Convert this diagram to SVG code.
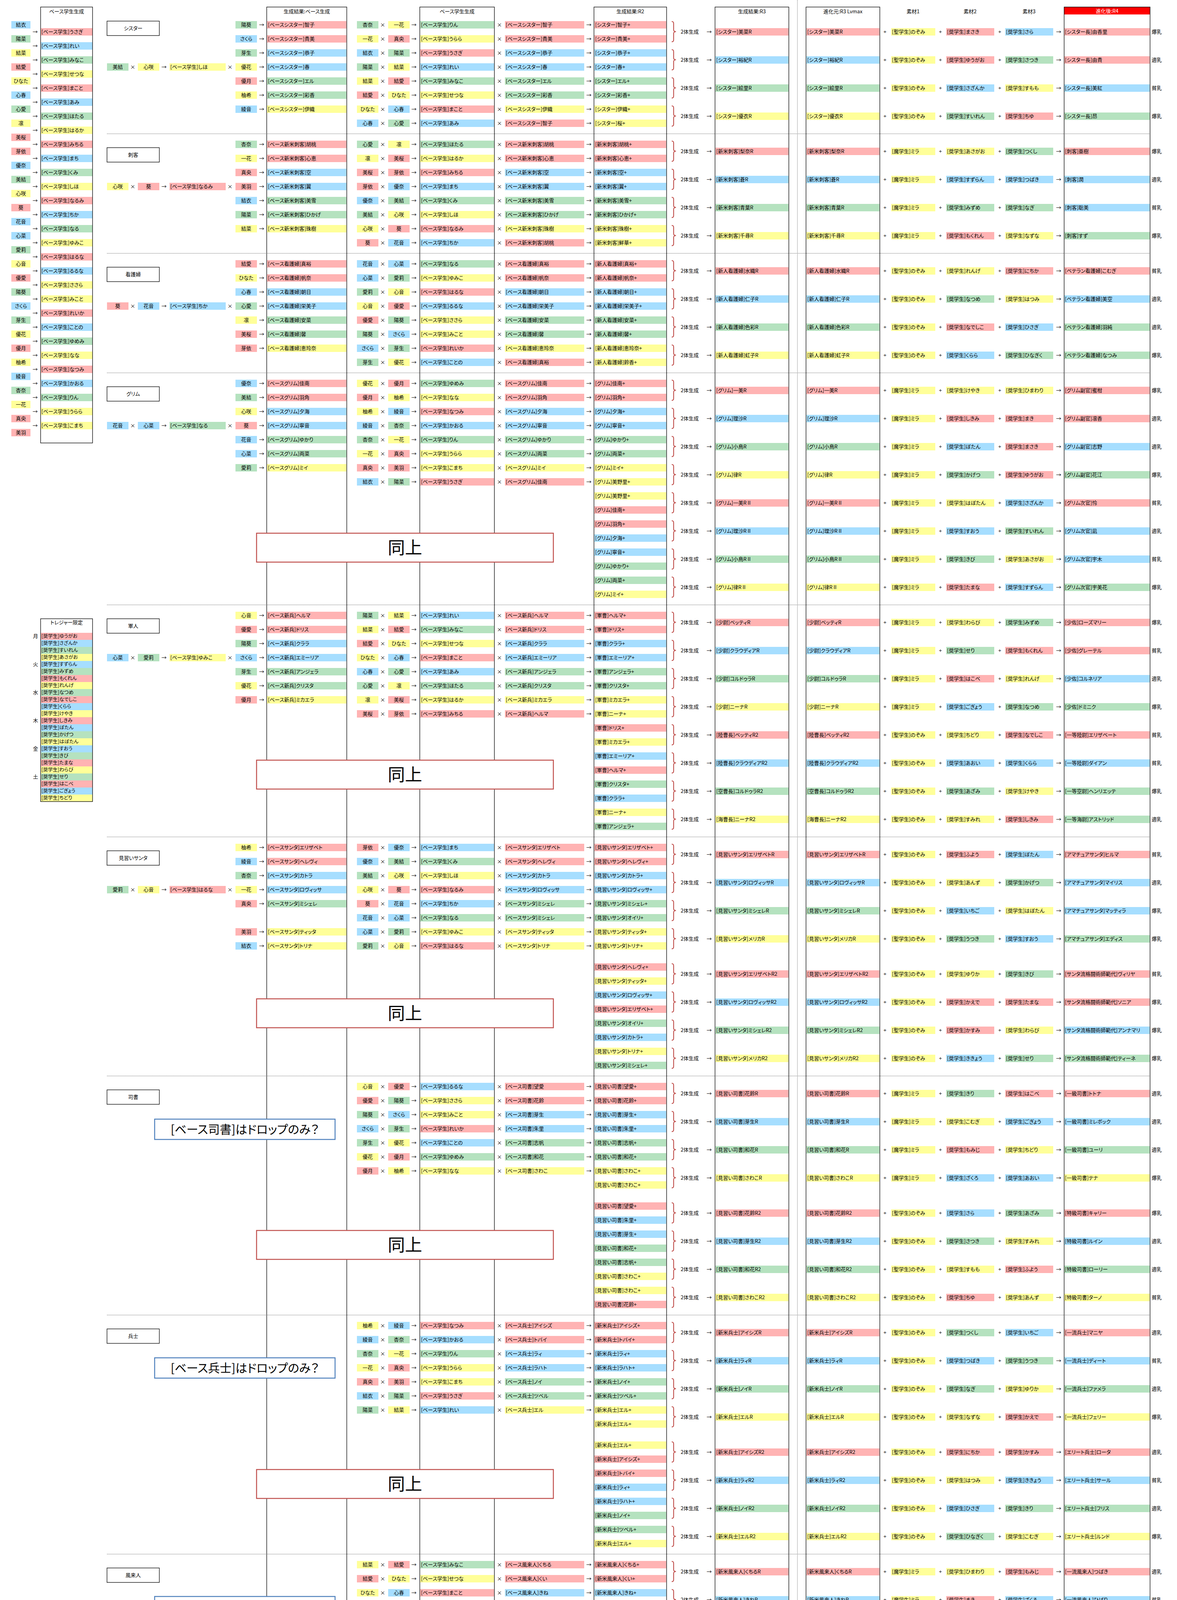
<svg xmlns="http://www.w3.org/2000/svg" width="3014" height="5815" viewBox="0 0 3014 5815">
<style>
text{font-family:"Noto Sans CJK JP","Noto Sans CJK SC",sans-serif;font-size:13px;font-feature-settings:"palt";fill:#000}
.p{fill:#FFB3B3}.b{fill:#A6DEFF}.g{fill:#B5E2BF}.y{fill:#FFFF99}
.m{text-anchor:middle}.w{fill:#fff}
.bx{fill:none;stroke:#000;stroke-width:1.3}
.lb{fill:#fff;stroke:#000;stroke-width:1.3}
.ld{fill:#fff;stroke:#000;stroke-width:1;stroke-dasharray:2 2}
.dt{stroke:#444;stroke-width:1;stroke-dasharray:1.5 1.5}
.sl{stroke:#444;stroke-width:1}
.sd{fill:#fff;stroke:#C0504D;stroke-width:2.5}
.nb{fill:#fff;stroke:#4F81BD;stroke-width:2.5}
.big{font-size:44px}.mid{font-size:30px}
.wa rect{width:49px;height:19px}.wb rect{width:132px;height:19px}.wt rect{width:132px;height:18px}
.wc rect{width:55px;height:19px}.wd rect{width:144px;height:19px}.we rect{width:203px;height:19px}
.wf rect{width:189px;height:19px}.wg rect{width:184px;height:19px}.wh rect{width:187px;height:19px}
.wi rect{width:113px;height:19px}.wj rect{width:123px;height:19px}.wk rect{width:219px;height:19px}
.wa text,.wc text{text-anchor:middle}.wt text{font-size:12.5px}
</style>
<defs>
<path id="br" d="M0,0q5,0 5,5v16q0,5 6,5q-6,0-6,5v16q0,5-5,5" fill="none" stroke="#C0504D" stroke-width="2.2"/>
</defs>
<rect width="3014" height="5815" fill="#fff"/>

<g id="base-list">
<g class="wa" transform="translate(29,0)">
<rect class="b" y="54"/><text x="24.5" y="68">結衣</text><rect class="g" y="90"/><text x="24.5" y="104">陽菜</text><rect class="y" y="126"/><text x="24.5" y="140">結菜</text><rect class="p" y="162"/><text x="24.5" y="176">結愛</text><rect class="y" y="198"/><text x="24.5" y="212">ひなた</text><rect class="b" y="234"/><text x="24.5" y="248">心春</text><rect class="g" y="270"/><text x="24.5" y="284">心愛</text><rect class="y" y="306"/><text x="24.5" y="320">凛</text><rect class="p" y="342"/><text x="24.5" y="356">美桜</text><rect class="p" y="378"/><text x="24.5" y="392">芽依</text><rect class="b" y="414"/><text x="24.5" y="428">優奈</text><rect class="g" y="450"/><text x="24.5" y="464">美結</text><rect class="y" y="486"/><text x="24.5" y="500">心咲</text><rect class="p" y="522"/><text x="24.5" y="536">葵</text><rect class="b" y="558"/><text x="24.5" y="572">花音</text><rect class="b" y="594"/><text x="24.5" y="608">心菜</text><rect class="g" y="630"/><text x="24.5" y="644">愛莉</text><rect class="y" y="666"/><text x="24.5" y="680">心音</text><rect class="p" y="702"/><text x="24.5" y="716">優愛</text><rect class="g" y="738"/><text x="24.5" y="752">陽葵</text><rect class="b" y="774"/><text x="24.5" y="788">さくら</text><rect class="g" y="810"/><text x="24.5" y="824">芽生</text><rect class="y" y="846"/><text x="24.5" y="860">優花</text><rect class="p" y="882"/><text x="24.5" y="896">優月</text><rect class="y" y="918"/><text x="24.5" y="932">柚希</text><rect class="b" y="954"/><text x="24.5" y="968">綾音</text><rect class="g" y="990"/><text x="24.5" y="1004">杏奈</text><rect class="y" y="1026"/><text x="24.5" y="1040">一花</text><rect class="p" y="1062"/><text x="24.5" y="1076">真央</text><rect class="p" y="1098"/><text x="24.5" y="1112">美羽</text>
</g>
<g class="wb" transform="translate(105,0)">
<rect class="p" y="72"/><text x="1" y="86">[ベース学生]うさぎ</text><rect class="b" y="108"/><text x="1" y="122">[ベース学生]れい</text><rect class="g" y="144"/><text x="1" y="158">[ベース学生]みなこ</text><rect class="y" y="180"/><text x="1" y="194">[ベース学生]せつな</text><rect class="p" y="216"/><text x="1" y="230">[ベース学生]まこと</text><rect class="b" y="252"/><text x="1" y="266">[ベース学生]あみ</text><rect class="g" y="288"/><text x="1" y="302">[ベース学生]ほたる</text><rect class="y" y="324"/><text x="1" y="338">[ベース学生]はるか</text><rect class="p" y="360"/><text x="1" y="374">[ベース学生]みちる</text><rect class="b" y="396"/><text x="1" y="410">[ベース学生]まち</text><rect class="g" y="432"/><text x="1" y="446">[ベース学生]くみ</text><rect class="y" y="468"/><text x="1" y="482">[ベース学生]しほ</text><rect class="p" y="504"/><text x="1" y="518">[ベース学生]なるみ</text><rect class="b" y="540"/><text x="1" y="554">[ベース学生]ちか</text><rect class="g" y="576"/><text x="1" y="590">[ベース学生]なる</text><rect class="y" y="612"/><text x="1" y="626">[ベース学生]ゆみこ</text><rect class="p" y="648"/><text x="1" y="662">[ベース学生]はるな</text><rect class="b" y="684"/><text x="1" y="698">[ベース学生]るるな</text><rect class="y" y="720"/><text x="1" y="734">[ベース学生]ささら</text><rect class="y" y="756"/><text x="1" y="770">[ベース学生]みこと</text><rect class="p" y="792"/><text x="1" y="806">[ベース学生]れいか</text><rect class="b" y="828"/><text x="1" y="842">[ベース学生]ことの</text><rect class="g" y="864"/><text x="1" y="878">[ベース学生]ゆめみ</text><rect class="y" y="900"/><text x="1" y="914">[ベース学生]なな</text><rect class="p" y="936"/><text x="1" y="950">[ベース学生]なつみ</text><rect class="b" y="972"/><text x="1" y="986">[ベース学生]かおる</text><rect class="g" y="1008"/><text x="1" y="1022">[ベース学生]りん</text><rect class="y" y="1044"/><text x="1" y="1058">[ベース学生]うらら</text><rect class="y" y="1080"/><text x="1" y="1094">[ベース学生]こまち</text>
</g>
<text class="m" x="90 90 90 90 90 90 90 90 90 90 90 90 90 90 90 90 90 90 90 90 90 90 90 90 90 90 90 90 90" y="86 122 158 194 230 266 302 338 374 410 446 482 518 554 590 626 662 698 734 770 806 842 878 914 950 986 1022 1058 1094">→→→→→→→→→→→→→→→→→→→→→→→→→→→→→</text>
<rect class="bx" x="104" y="18" width="133" height="1116"/>
<text class="m" x="170.5" y="34">ベース学生生成</text>
</g>

<g id="treasure">
<g class="wt" transform="translate(105,0)">
<rect class="p" y="1620"/><text x="1" y="1633">[奨学生]ゆうがお</text><rect class="b" y="1638"/><text x="1" y="1651">[奨学生]さざんか</text><rect class="g" y="1656"/><text x="1" y="1669">[奨学生]すいれん</text><rect class="y" y="1674"/><text x="1" y="1687">[奨学生]あさがお</text><rect class="b" y="1692"/><text x="1" y="1705">[奨学生]すずらん</text><rect class="g" y="1710"/><text x="1" y="1723">[奨学生]みずめ</text><rect class="p" y="1728"/><text x="1" y="1741">[奨学生]もくれん</text><rect class="y" y="1746"/><text x="1" y="1759">[奨学生]れんげ</text><rect class="g" y="1764"/><text x="1" y="1777">[奨学生]なつめ</text><rect class="p" y="1782"/><text x="1" y="1795">[奨学生]なでしこ</text><rect class="b" y="1800"/><text x="1" y="1813">[奨学生]くらら</text><rect class="y" y="1818"/><text x="1" y="1831">[奨学生]けやき</text><rect class="p" y="1836"/><text x="1" y="1849">[奨学生]しきみ</text><rect class="b" y="1854"/><text x="1" y="1867">[奨学生]ぼたん</text><rect class="g" y="1872"/><text x="1" y="1885">[奨学生]かげつ</text><rect class="y" y="1890"/><text x="1" y="1903">[奨学生]はぼたん</text><rect class="b" y="1908"/><text x="1" y="1921">[奨学生]すおう</text><rect class="g" y="1926"/><text x="1" y="1939">[奨学生]きび</text><rect class="p" y="1944"/><text x="1" y="1957">[奨学生]たまな</text><rect class="y" y="1962"/><text x="1" y="1975">[奨学生]わらび</text><rect class="g" y="1980"/><text x="1" y="1993">[奨学生]せり</text><rect class="p" y="1998"/><text x="1" y="2011">[奨学生]はこべ</text><rect class="b" y="2016"/><text x="1" y="2029">[奨学生]ごぎょう</text><rect class="y" y="2034"/><text x="1" y="2047">[奨学生]ちどり</text>
</g>
<text class="m" x="91 91 91 91 91 91" y="1633 1705 1777 1849 1921 1993">月火水木金土</text>
<rect class="bx" x="104" y="1584" width="133" height="468"/>
<text class="m" x="170.5" y="1598">トレジャー限定</text>
</g>

<g id="sec-sister">
<rect class="lb" x="274" y="54" width="134" height="37"/><text class="m" x="341" y="77">シスター</text>
<g class="wc"><rect class="g" x="274" y="162"/><text x="301.5" y="176">美結</text><rect class="y" x="353" y="162"/><text x="380.5" y="176">心咲</text></g>
<g class="wd"><rect class="y" x="434" y="162"/><text x="436" y="176">[ベース学生]しほ</text></g>
<text class="m" x="340" y="176">×</text><text class="m" x="420" y="176">→</text><text class="m" x="589" y="176">×</text>
<text class="m" x="670 670 670 670 670 670 670" y="68 104 140 176 212 248 284">→→→→→→→</text>
<g class="wc" transform="translate(603,0)"><rect class="g" y="54"/><text x="27.5" y="68">陽葵</text><rect class="b" y="90"/><text x="27.5" y="104">さくら</text><rect class="g" y="126"/><text x="27.5" y="140">芽生</text><rect class="y" y="162"/><text x="27.5" y="176">優花</text><rect class="p" y="198"/><text x="27.5" y="212">優月</text><rect class="y" y="234"/><text x="27.5" y="248">柚希</text><rect class="b" y="270"/><text x="27.5" y="284">綾音</text></g>
<g class="we" transform="translate(684,0)"><rect class="p" y="54"/><text x="2" y="68">[ベースシスター]智子</text><rect class="p" y="90"/><text x="2" y="104">[ベースシスター]貴美</text><rect class="b" y="126"/><text x="2" y="140">[ベースシスター]恭子</text><rect class="b" y="162"/><text x="2" y="176">[ベースシスター]春</text><rect class="g" y="198"/><text x="2" y="212">[ベースシスター]エル</text><rect class="g" y="234"/><text x="2" y="248">[ベースシスター]彩香</text><rect class="y" y="270"/><text x="2" y="284">[ベースシスター]伊織</text></g>
<g class="wc" transform="translate(914,0)"><rect class="g" y="54"/><text x="27.5" y="68">杏奈</text><rect class="y" y="90"/><text x="27.5" y="104">一花</text><rect class="b" y="126"/><text x="27.5" y="140">結衣</text><rect class="g" y="162"/><text x="27.5" y="176">陽菜</text><rect class="y" y="198"/><text x="27.5" y="212">結菜</text><rect class="p" y="234"/><text x="27.5" y="248">結愛</text><rect class="y" y="270"/><text x="27.5" y="284">ひなた</text><rect class="b" y="306"/><text x="27.5" y="320">心春</text></g>
<g class="wc" transform="translate(994,0)"><rect class="y" y="54"/><text x="27.5" y="68">一花</text><rect class="p" y="90"/><text x="27.5" y="104">真央</text><rect class="g" y="126"/><text x="27.5" y="140">陽菜</text><rect class="y" y="162"/><text x="27.5" y="176">結菜</text><rect class="p" y="198"/><text x="27.5" y="212">結愛</text><rect class="y" y="234"/><text x="27.5" y="248">ひなた</text><rect class="b" y="270"/><text x="27.5" y="284">心春</text><rect class="g" y="306"/><text x="27.5" y="320">心愛</text></g>
<g class="wf" transform="translate(1076,0)"><rect class="g" y="54"/><text x="2" y="68">[ベース学生]りん</text><rect class="y" y="90"/><text x="2" y="104">[ベース学生]うらら</text><rect class="p" y="126"/><text x="2" y="140">[ベース学生]うさぎ</text><rect class="b" y="162"/><text x="2" y="176">[ベース学生]れい</text><rect class="g" y="198"/><text x="2" y="212">[ベース学生]みなこ</text><rect class="y" y="234"/><text x="2" y="248">[ベース学生]せつな</text><rect class="p" y="270"/><text x="2" y="284">[ベース学生]まこと</text><rect class="b" y="306"/><text x="2" y="320">[ベース学生]あみ</text></g>
<g class="we" transform="translate(1293,0)"><rect class="p" y="54"/><text x="2" y="68">[ベースシスター]智子</text><rect class="p" y="90"/><text x="2" y="104">[ベースシスター]貴美</text><rect class="b" y="126"/><text x="2" y="140">[ベースシスター]恭子</text><rect class="b" y="162"/><text x="2" y="176">[ベースシスター]春</text><rect class="g" y="198"/><text x="2" y="212">[ベースシスター]エル</text><rect class="g" y="234"/><text x="2" y="248">[ベースシスター]彩香</text><rect class="y" y="270"/><text x="2" y="284">[ベースシスター]伊織</text><rect class="p" y="306"/><text x="2" y="320">[ベースシスター]智子</text></g>
<text class="m" x="980 980 980 980 980 980 980 980" y="68 104 140 176 212 248 284 320">××××××××</text>
<text class="m" x="1060 1060 1060 1060 1060 1060 1060 1060" y="68 104 140 176 212 248 284 320">→→→→→→→→</text>
<text class="m" x="1279 1279 1279 1279 1279 1279 1279 1279" y="68 104 140 176 212 248 284 320">××××××××</text>
<text class="m" x="1508 1508 1508 1508 1508 1508 1508 1508" y="68 104 140 176 212 248 284 320">→→→→→→→→</text>
<g class="wg" transform="translate(1522,0)"><rect class="p" y="54"/><text x="2" y="68">[シスター]智子+</text><rect class="p" y="90"/><text x="2" y="104">[シスター]貴美+</text><rect class="b" y="126"/><text x="2" y="140">[シスター]恭子+</text><rect class="b" y="162"/><text x="2" y="176">[シスター]春+</text><rect class="g" y="198"/><text x="2" y="212">[シスター]エル+</text><rect class="g" y="234"/><text x="2" y="248">[シスター]彩香+</text><rect class="y" y="270"/><text x="2" y="284">[シスター]伊織+</text><rect class="y" y="306"/><text x="2" y="320">[シスター]桜+</text></g>
<text x="1743" y="86">2体生成</text><text x="1743" y="158">2体生成</text><text x="1743" y="230">2体生成</text><text x="1743" y="302">2体生成</text>
<g class="wh" transform="translate(1832,0)"><rect class="p" y="72"/><text x="2" y="86">[シスター]美菜R</text><rect class="b" y="144"/><text x="2" y="158">[シスター]裕紀R</text><rect class="g" y="216"/><text x="2" y="230">[シスター]絵里R</text><rect class="y" y="288"/><text x="2" y="302">[シスター]優衣R</text></g>
<g class="wh" transform="translate(2065,0)"><rect class="p" y="72"/><text x="2" y="86">[シスター]美菜R</text><rect class="b" y="144"/><text x="2" y="158">[シスター]裕紀R</text><rect class="g" y="216"/><text x="2" y="230">[シスター]絵里R</text><rect class="y" y="288"/><text x="2" y="302">[シスター]優衣R</text></g>
<g class="wi" transform="translate(2282,0)"><rect class="y" y="72"/><text x="2" y="86">[聖学生]のぞみ</text><rect class="y" y="144"/><text x="2" y="158">[聖学生]のぞみ</text><rect class="y" y="216"/><text x="2" y="230">[聖学生]のぞみ</text><rect class="y" y="288"/><text x="2" y="302">[聖学生]のぞみ</text></g>
<g class="wj" transform="translate(2423,0)"><rect class="p" y="72"/><text x="2" y="86">[奨学生]まさき</text><rect class="p" y="144"/><text x="2" y="158">[奨学生]ゆうがお</text><rect class="b" y="216"/><text x="2" y="230">[奨学生]さざんか</text><rect class="g" y="288"/><text x="2" y="302">[奨学生]すいれん</text></g>
<g class="wj" transform="translate(2574,0)"><rect class="b" y="72"/><text x="2" y="86">[奨学生]さら</text><rect class="g" y="144"/><text x="2" y="158">[奨学生]さつき</text><rect class="y" y="216"/><text x="2" y="230">[奨学生]すもも</text><rect class="p" y="288"/><text x="2" y="302">[奨学生]ちゆ</text></g>
<g class="wk" transform="translate(2725,0)"><rect class="p" y="72"/><text x="2" y="86">[シスター長]由香里</text><rect class="p" y="144"/><text x="2" y="158">[シスター長]由貴</text><rect class="b" y="216"/><text x="2" y="230">[シスター長]美紅</text><rect class="g" y="288"/><text x="2" y="302">[シスター長]昂</text></g>
<text x="2949" y="86">爆乳</text><text x="2949" y="158">適乳</text><text x="2949" y="230">貧乳</text><text x="2949" y="302">爆乳</text>
<text class="m" x="1816 1816 1816 1816" y="86 158 230 302">→→→→</text>
<text class="m" x="2266 2266 2266 2266" y="86 158 230 302">++++</text>
<text class="m" x="2408 2408 2408 2408" y="86 158 230 302">++++</text>
<text class="m" x="2560 2560 2560 2560" y="86 158 230 302">++++</text>
<text class="m" x="2711 2711 2711 2711" y="86 158 230 302">→→→→</text>
</g>

<g id="sec-assassin">
<rect class="lb" x="274" y="378" width="134" height="37"/><text class="m" x="341" y="401">刺客</text>
<g class="wc"><rect class="y" x="274" y="468"/><text x="301.5" y="482">心咲</text><rect class="p" x="353" y="468"/><text x="380.5" y="482">葵</text></g>
<g class="wd"><rect class="p" x="434" y="468"/><text x="436" y="482">[ベース学生]なるみ</text></g>
<text class="m" x="340" y="482">×</text><text class="m" x="420" y="482">→</text><text class="m" x="589" y="482">×</text>
<text class="m" x="670 670 670 670 670 670 670" y="374 410 446 482 518 554 590">→→→→→→→</text>
<g class="wc" transform="translate(603,0)"><rect class="g" y="360"/><text x="27.5" y="374">杏奈</text><rect class="y" y="396"/><text x="27.5" y="410">一花</text><rect class="p" y="432"/><text x="27.5" y="446">真央</text><rect class="p" y="468"/><text x="27.5" y="482">美羽</text><rect class="b" y="504"/><text x="27.5" y="518">結衣</text><rect class="g" y="540"/><text x="27.5" y="554">陽菜</text><rect class="y" y="576"/><text x="27.5" y="590">結菜</text></g>
<g class="we" transform="translate(684,0)"><rect class="p" y="360"/><text x="2" y="374">[ベース新米刺客]胡桃</text><rect class="p" y="396"/><text x="2" y="410">[ベース新米刺客]心恵</text><rect class="b" y="432"/><text x="2" y="446">[ベース新米刺客]空</text><rect class="b" y="468"/><text x="2" y="482">[ベース新米刺客]翼</text><rect class="g" y="504"/><text x="2" y="518">[ベース新米刺客]美雪</text><rect class="g" y="540"/><text x="2" y="554">[ベース新米刺客]ひかげ</text><rect class="y" y="576"/><text x="2" y="590">[ベース新米刺客]珠樹</text></g>
<g class="wc" transform="translate(914,0)"><rect class="g" y="360"/><text x="27.5" y="374">心愛</text><rect class="y" y="396"/><text x="27.5" y="410">凛</text><rect class="p" y="432"/><text x="27.5" y="446">美桜</text><rect class="p" y="468"/><text x="27.5" y="482">芽依</text><rect class="b" y="504"/><text x="27.5" y="518">優奈</text><rect class="g" y="540"/><text x="27.5" y="554">美結</text><rect class="y" y="576"/><text x="27.5" y="590">心咲</text><rect class="p" y="612"/><text x="27.5" y="626">葵</text></g>
<g class="wc" transform="translate(994,0)"><rect class="y" y="360"/><text x="27.5" y="374">凛</text><rect class="p" y="396"/><text x="27.5" y="410">美桜</text><rect class="p" y="432"/><text x="27.5" y="446">芽依</text><rect class="b" y="468"/><text x="27.5" y="482">優奈</text><rect class="g" y="504"/><text x="27.5" y="518">美結</text><rect class="y" y="540"/><text x="27.5" y="554">心咲</text><rect class="p" y="576"/><text x="27.5" y="590">葵</text><rect class="b" y="612"/><text x="27.5" y="626">花音</text></g>
<g class="wf" transform="translate(1076,0)"><rect class="g" y="360"/><text x="2" y="374">[ベース学生]ほたる</text><rect class="y" y="396"/><text x="2" y="410">[ベース学生]はるか</text><rect class="p" y="432"/><text x="2" y="446">[ベース学生]みちる</text><rect class="b" y="468"/><text x="2" y="482">[ベース学生]まち</text><rect class="g" y="504"/><text x="2" y="518">[ベース学生]くみ</text><rect class="y" y="540"/><text x="2" y="554">[ベース学生]しほ</text><rect class="p" y="576"/><text x="2" y="590">[ベース学生]なるみ</text><rect class="b" y="612"/><text x="2" y="626">[ベース学生]ちか</text></g>
<g class="we" transform="translate(1293,0)"><rect class="p" y="360"/><text x="2" y="374">[ベース新米刺客]胡桃</text><rect class="p" y="396"/><text x="2" y="410">[ベース新米刺客]心恵</text><rect class="b" y="432"/><text x="2" y="446">[ベース新米刺客]空</text><rect class="b" y="468"/><text x="2" y="482">[ベース新米刺客]翼</text><rect class="g" y="504"/><text x="2" y="518">[ベース新米刺客]美雪</text><rect class="g" y="540"/><text x="2" y="554">[ベース新米刺客]ひかげ</text><rect class="y" y="576"/><text x="2" y="590">[ベース新米刺客]珠樹</text><rect class="p" y="612"/><text x="2" y="626">[ベース新米刺客]胡桃</text></g>
<text class="m" x="980 980 980 980 980 980 980 980" y="374 410 446 482 518 554 590 626">××××××××</text>
<text class="m" x="1060 1060 1060 1060 1060 1060 1060 1060" y="374 410 446 482 518 554 590 626">→→→→→→→→</text>
<text class="m" x="1279 1279 1279 1279 1279 1279 1279 1279" y="374 410 446 482 518 554 590 626">××××××××</text>
<text class="m" x="1508 1508 1508 1508 1508 1508 1508 1508" y="374 410 446 482 518 554 590 626">→→→→→→→→</text>
<g class="wg" transform="translate(1522,0)"><rect class="p" y="360"/><text x="2" y="374">[新米刺客]胡桃+</text><rect class="p" y="396"/><text x="2" y="410">[新米刺客]心恵+</text><rect class="b" y="432"/><text x="2" y="446">[新米刺客]空+</text><rect class="b" y="468"/><text x="2" y="482">[新米刺客]翼+</text><rect class="g" y="504"/><text x="2" y="518">[新米刺客]美雪+</text><rect class="g" y="540"/><text x="2" y="554">[新米刺客]ひかげ+</text><rect class="y" y="576"/><text x="2" y="590">[新米刺客]珠樹+</text><rect class="y" y="612"/><text x="2" y="626">[新米刺客]鮮華+</text></g>
<text x="1743" y="392">2体生成</text><text x="1743" y="464">2体生成</text><text x="1743" y="536">2体生成</text><text x="1743" y="608">2体生成</text>
<g class="wh" transform="translate(1832,0)"><rect class="p" y="378"/><text x="2" y="392">[新米刺客]梨奈R</text><rect class="b" y="450"/><text x="2" y="464">[新米刺客]蒼R</text><rect class="g" y="522"/><text x="2" y="536">[新米刺客]青葉R</text><rect class="y" y="594"/><text x="2" y="608">[新米刺客]千尋R</text></g>
<g class="wh" transform="translate(2065,0)"><rect class="p" y="378"/><text x="2" y="392">[新米刺客]梨奈R</text><rect class="b" y="450"/><text x="2" y="464">[新米刺客]蒼R</text><rect class="g" y="522"/><text x="2" y="536">[新米刺客]青葉R</text><rect class="y" y="594"/><text x="2" y="608">[新米刺客]千尋R</text></g>
<g class="wi" transform="translate(2282,0)"><rect class="y" y="378"/><text x="2" y="392">[魔学生]ミラ</text><rect class="y" y="450"/><text x="2" y="464">[魔学生]ミラ</text><rect class="y" y="522"/><text x="2" y="536">[魔学生]ミラ</text><rect class="y" y="594"/><text x="2" y="608">[魔学生]ミラ</text></g>
<g class="wj" transform="translate(2423,0)"><rect class="y" y="378"/><text x="2" y="392">[奨学生]あさがお</text><rect class="b" y="450"/><text x="2" y="464">[奨学生]すずらん</text><rect class="g" y="522"/><text x="2" y="536">[奨学生]みずめ</text><rect class="p" y="594"/><text x="2" y="608">[奨学生]もくれん</text></g>
<g class="wj" transform="translate(2574,0)"><rect class="g" y="378"/><text x="2" y="392">[奨学生]つくし</text><rect class="b" y="450"/><text x="2" y="464">[奨学生]つばき</text><rect class="g" y="522"/><text x="2" y="536">[奨学生]なぎ</text><rect class="y" y="594"/><text x="2" y="608">[奨学生]なずな</text></g>
<g class="wk" transform="translate(2725,0)"><rect class="p" y="378"/><text x="2" y="392">[刺客]亜樹</text><rect class="b" y="450"/><text x="2" y="464">[刺客]潤</text><rect class="b" y="522"/><text x="2" y="536">[刺客]聡美</text><rect class="g" y="594"/><text x="2" y="608">[刺客]すず</text></g>
<text x="2949" y="392">爆乳</text><text x="2949" y="464">適乳</text><text x="2949" y="536">貧乳</text><text x="2949" y="608">爆乳</text>
<text class="m" x="1816 1816 1816 1816" y="392 464 536 608">→→→→</text>
<text class="m" x="2266 2266 2266 2266" y="392 464 536 608">++++</text>
<text class="m" x="2408 2408 2408 2408" y="392 464 536 608">++++</text>
<text class="m" x="2560 2560 2560 2560" y="392 464 536 608">++++</text>
<text class="m" x="2711 2711 2711 2711" y="392 464 536 608">→→→→</text>
</g>

<g id="sec-nurse">
<rect class="lb" x="274" y="684" width="134" height="37"/><text class="m" x="341" y="707">看護婦</text>
<g class="wc"><rect class="p" x="274" y="774"/><text x="301.5" y="788">葵</text><rect class="b" x="353" y="774"/><text x="380.5" y="788">花音</text></g>
<g class="wd"><rect class="b" x="434" y="774"/><text x="436" y="788">[ベース学生]ちか</text></g>
<text class="m" x="340" y="788">×</text><text class="m" x="420" y="788">→</text><text class="m" x="589" y="788">×</text>
<text class="m" x="670 670 670 670 670 670 670" y="680 716 752 788 824 860 896">→→→→→→→</text>
<g class="wc" transform="translate(603,0)"><rect class="p" y="666"/><text x="27.5" y="680">結愛</text><rect class="y" y="702"/><text x="27.5" y="716">ひなた</text><rect class="b" y="738"/><text x="27.5" y="752">心春</text><rect class="g" y="774"/><text x="27.5" y="788">心愛</text><rect class="y" y="810"/><text x="27.5" y="824">凛</text><rect class="p" y="846"/><text x="27.5" y="860">美桜</text><rect class="p" y="882"/><text x="27.5" y="896">芽依</text></g>
<g class="we" transform="translate(684,0)"><rect class="p" y="666"/><text x="2" y="680">[ベース看護婦]真裕</text><rect class="p" y="702"/><text x="2" y="716">[ベース看護婦]帆奈</text><rect class="b" y="738"/><text x="2" y="752">[ベース看護婦]朝日</text><rect class="b" y="774"/><text x="2" y="788">[ベース看護婦]栄美子</text><rect class="g" y="810"/><text x="2" y="824">[ベース看護婦]安菜</text><rect class="g" y="846"/><text x="2" y="860">[ベース看護婦]馨</text><rect class="y" y="882"/><text x="2" y="896">[ベース看護婦]恵玲奈</text></g>
<g class="wc" transform="translate(914,0)"><rect class="b" y="666"/><text x="27.5" y="680">花音</text><rect class="b" y="702"/><text x="27.5" y="716">心菜</text><rect class="g" y="738"/><text x="27.5" y="752">愛莉</text><rect class="y" y="774"/><text x="27.5" y="788">心音</text><rect class="p" y="810"/><text x="27.5" y="824">優愛</text><rect class="g" y="846"/><text x="27.5" y="860">陽葵</text><rect class="b" y="882"/><text x="27.5" y="896">さくら</text><rect class="g" y="918"/><text x="27.5" y="932">芽生</text></g>
<g class="wc" transform="translate(994,0)"><rect class="b" y="666"/><text x="27.5" y="680">心菜</text><rect class="g" y="702"/><text x="27.5" y="716">愛莉</text><rect class="y" y="738"/><text x="27.5" y="752">心音</text><rect class="p" y="774"/><text x="27.5" y="788">優愛</text><rect class="g" y="810"/><text x="27.5" y="824">陽葵</text><rect class="b" y="846"/><text x="27.5" y="860">さくら</text><rect class="g" y="882"/><text x="27.5" y="896">芽生</text><rect class="y" y="918"/><text x="27.5" y="932">優花</text></g>
<g class="wf" transform="translate(1076,0)"><rect class="g" y="666"/><text x="2" y="680">[ベース学生]なる</text><rect class="y" y="702"/><text x="2" y="716">[ベース学生]ゆみこ</text><rect class="p" y="738"/><text x="2" y="752">[ベース学生]はるな</text><rect class="b" y="774"/><text x="2" y="788">[ベース学生]るるな</text><rect class="y" y="810"/><text x="2" y="824">[ベース学生]ささら</text><rect class="y" y="846"/><text x="2" y="860">[ベース学生]みこと</text><rect class="p" y="882"/><text x="2" y="896">[ベース学生]れいか</text><rect class="b" y="918"/><text x="2" y="932">[ベース学生]ことの</text></g>
<g class="we" transform="translate(1293,0)"><rect class="p" y="666"/><text x="2" y="680">[ベース看護婦]真裕</text><rect class="p" y="702"/><text x="2" y="716">[ベース看護婦]帆奈</text><rect class="b" y="738"/><text x="2" y="752">[ベース看護婦]朝日</text><rect class="b" y="774"/><text x="2" y="788">[ベース看護婦]栄美子</text><rect class="g" y="810"/><text x="2" y="824">[ベース看護婦]安菜</text><rect class="g" y="846"/><text x="2" y="860">[ベース看護婦]馨</text><rect class="y" y="882"/><text x="2" y="896">[ベース看護婦]恵玲奈</text><rect class="p" y="918"/><text x="2" y="932">[ベース看護婦]真裕</text></g>
<text class="m" x="980 980 980 980 980 980 980 980" y="680 716 752 788 824 860 896 932">××××××××</text>
<text class="m" x="1060 1060 1060 1060 1060 1060 1060 1060" y="680 716 752 788 824 860 896 932">→→→→→→→→</text>
<text class="m" x="1279 1279 1279 1279 1279 1279 1279 1279" y="680 716 752 788 824 860 896 932">××××××××</text>
<text class="m" x="1508 1508 1508 1508 1508 1508 1508 1508" y="680 716 752 788 824 860 896 932">→→→→→→→→</text>
<g class="wg" transform="translate(1522,0)"><rect class="p" y="666"/><text x="2" y="680">[新人看護婦]真裕+</text><rect class="p" y="702"/><text x="2" y="716">[新人看護婦]帆奈+</text><rect class="b" y="738"/><text x="2" y="752">[新人看護婦]朝日+</text><rect class="b" y="774"/><text x="2" y="788">[新人看護婦]栄美子+</text><rect class="g" y="810"/><text x="2" y="824">[新人看護婦]安菜+</text><rect class="g" y="846"/><text x="2" y="860">[新人看護婦]馨+</text><rect class="y" y="882"/><text x="2" y="896">[新人看護婦]恵玲奈+</text><rect class="y" y="918"/><text x="2" y="932">[新人看護婦]鈴香+</text></g>
<text x="1743" y="698">2体生成</text><text x="1743" y="770">2体生成</text><text x="1743" y="842">2体生成</text><text x="1743" y="914">2体生成</text>
<g class="wh" transform="translate(1832,0)"><rect class="p" y="684"/><text x="2" y="698">[新人看護婦]水織R</text><rect class="b" y="756"/><text x="2" y="770">[新人看護婦]仁子R</text><rect class="g" y="828"/><text x="2" y="842">[新人看護婦]色彩R</text><rect class="y" y="900"/><text x="2" y="914">[新人看護婦]虹子R</text></g>
<g class="wh" transform="translate(2065,0)"><rect class="p" y="684"/><text x="2" y="698">[新人看護婦]水織R</text><rect class="b" y="756"/><text x="2" y="770">[新人看護婦]仁子R</text><rect class="g" y="828"/><text x="2" y="842">[新人看護婦]色彩R</text><rect class="y" y="900"/><text x="2" y="914">[新人看護婦]虹子R</text></g>
<g class="wi" transform="translate(2282,0)"><rect class="y" y="684"/><text x="2" y="698">[聖学生]のぞみ</text><rect class="y" y="756"/><text x="2" y="770">[聖学生]のぞみ</text><rect class="y" y="828"/><text x="2" y="842">[聖学生]のぞみ</text><rect class="y" y="900"/><text x="2" y="914">[聖学生]のぞみ</text></g>
<g class="wj" transform="translate(2423,0)"><rect class="y" y="684"/><text x="2" y="698">[奨学生]れんげ</text><rect class="g" y="756"/><text x="2" y="770">[奨学生]なつめ</text><rect class="p" y="828"/><text x="2" y="842">[奨学生]なでしこ</text><rect class="b" y="900"/><text x="2" y="914">[奨学生]くらら</text></g>
<g class="wj" transform="translate(2574,0)"><rect class="p" y="684"/><text x="2" y="698">[奨学生]にちか</text><rect class="y" y="756"/><text x="2" y="770">[奨学生]はつみ</text><rect class="b" y="828"/><text x="2" y="842">[奨学生]ひさぎ</text><rect class="g" y="900"/><text x="2" y="914">[奨学生]ひなぎく</text></g>
<g class="wk" transform="translate(2725,0)"><rect class="p" y="684"/><text x="2" y="698">[ベテラン看護婦]こむぎ</text><rect class="b" y="756"/><text x="2" y="770">[ベテラン看護婦]美空</text><rect class="g" y="828"/><text x="2" y="842">[ベテラン看護婦]羽純</text><rect class="g" y="900"/><text x="2" y="914">[ベテラン看護婦]なつみ</text></g>
<text x="2949" y="698">貧乳</text><text x="2949" y="770">適乳</text><text x="2949" y="842">適乳</text><text x="2949" y="914">爆乳</text>
<text class="m" x="1816 1816 1816 1816" y="698 770 842 914">→→→→</text>
<text class="m" x="2266 2266 2266 2266" y="698 770 842 914">++++</text>
<text class="m" x="2408 2408 2408 2408" y="698 770 842 914">++++</text>
<text class="m" x="2560 2560 2560 2560" y="698 770 842 914">++++</text>
<text class="m" x="2711 2711 2711 2711" y="698 770 842 914">→→→→</text>
</g>

<g id="sec-grimm">
<rect class="lb" x="274" y="990" width="134" height="37"/><text class="m" x="341" y="1013">グリム</text>
<g class="wc"><rect class="b" x="274" y="1080"/><text x="301.5" y="1094">花音</text><rect class="b" x="353" y="1080"/><text x="380.5" y="1094">心菜</text></g>
<g class="wd"><rect class="g" x="434" y="1080"/><text x="436" y="1094">[ベース学生]なる</text></g>
<text class="m" x="340" y="1094">×</text><text class="m" x="420" y="1094">→</text><text class="m" x="589" y="1094">×</text>
<text class="m" x="670 670 670 670 670 670 670" y="986 1022 1058 1094 1130 1166 1202">→→→→→→→</text>
<g class="wc" transform="translate(603,0)"><rect class="b" y="972"/><text x="27.5" y="986">優奈</text><rect class="g" y="1008"/><text x="27.5" y="1022">美結</text><rect class="y" y="1044"/><text x="27.5" y="1058">心咲</text><rect class="p" y="1080"/><text x="27.5" y="1094">葵</text><rect class="b" y="1116"/><text x="27.5" y="1130">花音</text><rect class="b" y="1152"/><text x="27.5" y="1166">心菜</text><rect class="g" y="1188"/><text x="27.5" y="1202">愛莉</text></g>
<g class="we" transform="translate(684,0)"><rect class="p" y="972"/><text x="2" y="986">[ベースグリム]佳南</text><rect class="p" y="1008"/><text x="2" y="1022">[ベースグリム]羽角</text><rect class="b" y="1044"/><text x="2" y="1058">[ベースグリム]夕海</text><rect class="b" y="1080"/><text x="2" y="1094">[ベースグリム]寧音</text><rect class="g" y="1116"/><text x="2" y="1130">[ベースグリム]ゆかり</text><rect class="g" y="1152"/><text x="2" y="1166">[ベースグリム]両菜</text><rect class="y" y="1188"/><text x="2" y="1202">[ベースグリム]ミイ</text></g>
<g class="wc" transform="translate(914,0)"><rect class="y" y="972"/><text x="27.5" y="986">優花</text><rect class="p" y="1008"/><text x="27.5" y="1022">優月</text><rect class="y" y="1044"/><text x="27.5" y="1058">柚希</text><rect class="b" y="1080"/><text x="27.5" y="1094">綾音</text><rect class="g" y="1116"/><text x="27.5" y="1130">杏奈</text><rect class="y" y="1152"/><text x="27.5" y="1166">一花</text><rect class="p" y="1188"/><text x="27.5" y="1202">真央</text><rect class="b" y="1224"/><text x="27.5" y="1238">結衣</text></g>
<g class="wc" transform="translate(994,0)"><rect class="p" y="972"/><text x="27.5" y="986">優月</text><rect class="y" y="1008"/><text x="27.5" y="1022">柚希</text><rect class="b" y="1044"/><text x="27.5" y="1058">綾音</text><rect class="g" y="1080"/><text x="27.5" y="1094">杏奈</text><rect class="y" y="1116"/><text x="27.5" y="1130">一花</text><rect class="p" y="1152"/><text x="27.5" y="1166">真央</text><rect class="p" y="1188"/><text x="27.5" y="1202">美羽</text><rect class="g" y="1224"/><text x="27.5" y="1238">陽菜</text></g>
<g class="wf" transform="translate(1076,0)"><rect class="g" y="972"/><text x="2" y="986">[ベース学生]ゆめみ</text><rect class="y" y="1008"/><text x="2" y="1022">[ベース学生]なな</text><rect class="p" y="1044"/><text x="2" y="1058">[ベース学生]なつみ</text><rect class="b" y="1080"/><text x="2" y="1094">[ベース学生]かおる</text><rect class="g" y="1116"/><text x="2" y="1130">[ベース学生]りん</text><rect class="y" y="1152"/><text x="2" y="1166">[ベース学生]うらら</text><rect class="y" y="1188"/><text x="2" y="1202">[ベース学生]こまち</text><rect class="p" y="1224"/><text x="2" y="1238">[ベース学生]うさぎ</text></g>
<g class="we" transform="translate(1293,0)"><rect class="p" y="972"/><text x="2" y="986">[ベースグリム]佳南</text><rect class="p" y="1008"/><text x="2" y="1022">[ベースグリム]羽角</text><rect class="b" y="1044"/><text x="2" y="1058">[ベースグリム]夕海</text><rect class="b" y="1080"/><text x="2" y="1094">[ベースグリム]寧音</text><rect class="g" y="1116"/><text x="2" y="1130">[ベースグリム]ゆかり</text><rect class="g" y="1152"/><text x="2" y="1166">[ベースグリム]両菜</text><rect class="y" y="1188"/><text x="2" y="1202">[ベースグリム]ミイ</text><rect class="p" y="1224"/><text x="2" y="1238">[ベースグリム]佳南</text></g>
<text class="m" x="980 980 980 980 980 980 980 980" y="986 1022 1058 1094 1130 1166 1202 1238">××××××××</text>
<text class="m" x="1060 1060 1060 1060 1060 1060 1060 1060" y="986 1022 1058 1094 1130 1166 1202 1238">→→→→→→→→</text>
<text class="m" x="1279 1279 1279 1279 1279 1279 1279 1279" y="986 1022 1058 1094 1130 1166 1202 1238">××××××××</text>
<text class="m" x="1508 1508 1508 1508 1508 1508 1508 1508" y="986 1022 1058 1094 1130 1166 1202 1238">→→→→→→→→</text>
<g class="wg" transform="translate(1522,0)"><rect class="p" y="972"/><text x="2" y="986">[グリム]佳南+</text><rect class="p" y="1008"/><text x="2" y="1022">[グリム]羽角+</text><rect class="b" y="1044"/><text x="2" y="1058">[グリム]夕海+</text><rect class="b" y="1080"/><text x="2" y="1094">[グリム]寧音+</text><rect class="g" y="1116"/><text x="2" y="1130">[グリム]ゆかり+</text><rect class="g" y="1152"/><text x="2" y="1166">[グリム]両菜+</text><rect class="y" y="1188"/><text x="2" y="1202">[グリム]ミイ+</text><rect class="y" y="1224"/><text x="2" y="1238">[グリム]美野里+</text><rect class="y" y="1260"/><text x="2" y="1274">[グリム]美野里+</text><rect class="p" y="1296"/><text x="2" y="1310">[グリム]佳南+</text><rect class="p" y="1332"/><text x="2" y="1346">[グリム]羽角+</text><rect class="b" y="1368"/><text x="2" y="1382">[グリム]夕海+</text><rect class="b" y="1404"/><text x="2" y="1418">[グリム]寧音+</text><rect class="g" y="1440"/><text x="2" y="1454">[グリム]ゆかり+</text><rect class="g" y="1476"/><text x="2" y="1490">[グリム]両菜+</text><rect class="y" y="1512"/><text x="2" y="1526">[グリム]ミイ+</text></g>
<text x="1743" y="1004">2体生成</text><text x="1743" y="1076">2体生成</text><text x="1743" y="1148">2体生成</text><text x="1743" y="1220">2体生成</text><text x="1743" y="1292">2体生成</text><text x="1743" y="1364">2体生成</text><text x="1743" y="1436">2体生成</text><text x="1743" y="1508">2体生成</text>
<g class="wh" transform="translate(1832,0)"><rect class="p" y="990"/><text x="2" y="1004">[グリム]一美R</text><rect class="b" y="1062"/><text x="2" y="1076">[グリム]理沙R</text><rect class="g" y="1134"/><text x="2" y="1148">[グリム]小鳥R</text><rect class="y" y="1206"/><text x="2" y="1220">[グリム]律R</text><rect class="p" y="1278"/><text x="2" y="1292">[グリム]一美RⅡ</text><rect class="b" y="1350"/><text x="2" y="1364">[グリム]理沙RⅡ</text><rect class="g" y="1422"/><text x="2" y="1436">[グリム]小鳥RⅡ</text><rect class="y" y="1494"/><text x="2" y="1508">[グリム]律RⅡ</text></g>
<g class="wh" transform="translate(2065,0)"><rect class="p" y="990"/><text x="2" y="1004">[グリム]一美R</text><rect class="b" y="1062"/><text x="2" y="1076">[グリム]理沙R</text><rect class="g" y="1134"/><text x="2" y="1148">[グリム]小鳥R</text><rect class="y" y="1206"/><text x="2" y="1220">[グリム]律R</text><rect class="p" y="1278"/><text x="2" y="1292">[グリム]一美RⅡ</text><rect class="b" y="1350"/><text x="2" y="1364">[グリム]理沙RⅡ</text><rect class="g" y="1422"/><text x="2" y="1436">[グリム]小鳥RⅡ</text><rect class="y" y="1494"/><text x="2" y="1508">[グリム]律RⅡ</text></g>
<g class="wi" transform="translate(2282,0)"><rect class="y" y="990"/><text x="2" y="1004">[魔学生]ミラ</text><rect class="y" y="1062"/><text x="2" y="1076">[魔学生]ミラ</text><rect class="y" y="1134"/><text x="2" y="1148">[魔学生]ミラ</text><rect class="y" y="1206"/><text x="2" y="1220">[魔学生]ミラ</text><rect class="y" y="1278"/><text x="2" y="1292">[魔学生]ミラ</text><rect class="y" y="1350"/><text x="2" y="1364">[魔学生]ミラ</text><rect class="y" y="1422"/><text x="2" y="1436">[魔学生]ミラ</text><rect class="y" y="1494"/><text x="2" y="1508">[魔学生]ミラ</text></g>
<g class="wj" transform="translate(2423,0)"><rect class="y" y="990"/><text x="2" y="1004">[奨学生]けやき</text><rect class="p" y="1062"/><text x="2" y="1076">[奨学生]しきみ</text><rect class="b" y="1134"/><text x="2" y="1148">[奨学生]ぼたん</text><rect class="g" y="1206"/><text x="2" y="1220">[奨学生]かげつ</text><rect class="y" y="1278"/><text x="2" y="1292">[奨学生]はぼたん</text><rect class="b" y="1350"/><text x="2" y="1364">[奨学生]すおう</text><rect class="g" y="1422"/><text x="2" y="1436">[奨学生]きび</text><rect class="p" y="1494"/><text x="2" y="1508">[奨学生]たまな</text></g>
<g class="wj" transform="translate(2574,0)"><rect class="y" y="990"/><text x="2" y="1004">[奨学生]ひまわり</text><rect class="p" y="1062"/><text x="2" y="1076">[奨学生]まき</text><rect class="p" y="1134"/><text x="2" y="1148">[奨学生]まさき</text><rect class="p" y="1206"/><text x="2" y="1220">[奨学生]ゆうがお</text><rect class="b" y="1278"/><text x="2" y="1292">[奨学生]さざんか</text><rect class="g" y="1350"/><text x="2" y="1364">[奨学生]すいれん</text><rect class="y" y="1422"/><text x="2" y="1436">[奨学生]あさがお</text><rect class="b" y="1494"/><text x="2" y="1508">[奨学生]すずらん</text></g>
<g class="wk" transform="translate(2725,0)"><rect class="p" y="990"/><text x="2" y="1004">[グリム副官]蜜柑</text><rect class="p" y="1062"/><text x="2" y="1076">[グリム副官]凛香</text><rect class="b" y="1134"/><text x="2" y="1148">[グリム副官]志野</text><rect class="g" y="1206"/><text x="2" y="1220">[グリム副官]花江</text><rect class="p" y="1278"/><text x="2" y="1292">[グリム次官]怜</text><rect class="b" y="1350"/><text x="2" y="1364">[グリム次官]凪</text><rect class="b" y="1422"/><text x="2" y="1436">[グリム次官]宇木</text><rect class="g" y="1494"/><text x="2" y="1508">[グリム次官]宇美花</text></g>
<text x="2949" y="1004">爆乳</text><text x="2949" y="1076">適乳</text><text x="2949" y="1148">適乳</text><text x="2949" y="1220">爆乳</text><text x="2949" y="1292">貧乳</text><text x="2949" y="1364">適乳</text><text x="2949" y="1436">貧乳</text><text x="2949" y="1508">爆乳</text>
<text class="m" x="1816 1816 1816 1816 1816 1816 1816 1816" y="1004 1076 1148 1220 1292 1364 1436 1508">→→→→→→→→</text>
<text class="m" x="2266 2266 2266 2266 2266 2266 2266 2266" y="1004 1076 1148 1220 1292 1364 1436 1508">++++++++</text>
<text class="m" x="2408 2408 2408 2408 2408 2408 2408 2408" y="1004 1076 1148 1220 1292 1364 1436 1508">++++++++</text>
<text class="m" x="2560 2560 2560 2560 2560 2560 2560 2560" y="1004 1076 1148 1220 1292 1364 1436 1508">++++++++</text>
<text class="m" x="2711 2711 2711 2711 2711 2711 2711 2711" y="1004 1076 1148 1220 1292 1364 1436 1508">→→→→→→→→</text>
</g>

<g id="sec-soldier">
<rect class="lb" x="274" y="1584" width="134" height="37"/><text class="m" x="341" y="1607">軍人</text>
<g class="wc"><rect class="b" x="274" y="1674"/><text x="301.5" y="1688">心菜</text><rect class="g" x="353" y="1674"/><text x="380.5" y="1688">愛莉</text></g>
<g class="wd"><rect class="y" x="434" y="1674"/><text x="436" y="1688">[ベース学生]ゆみこ</text></g>
<text class="m" x="340" y="1688">×</text><text class="m" x="420" y="1688">→</text><text class="m" x="589" y="1688">×</text>
<text class="m" x="670 670 670 670 670 670 670" y="1580 1616 1652 1688 1724 1760 1796">→→→→→→→</text>
<g class="wc" transform="translate(603,0)"><rect class="y" y="1566"/><text x="27.5" y="1580">心音</text><rect class="p" y="1602"/><text x="27.5" y="1616">優愛</text><rect class="g" y="1638"/><text x="27.5" y="1652">陽葵</text><rect class="b" y="1674"/><text x="27.5" y="1688">さくら</text><rect class="g" y="1710"/><text x="27.5" y="1724">芽生</text><rect class="y" y="1746"/><text x="27.5" y="1760">優花</text><rect class="p" y="1782"/><text x="27.5" y="1796">優月</text></g>
<g class="we" transform="translate(684,0)"><rect class="p" y="1566"/><text x="2" y="1580">[ベース新兵]ヘルマ</text><rect class="p" y="1602"/><text x="2" y="1616">[ベース新兵]ドリス</text><rect class="b" y="1638"/><text x="2" y="1652">[ベース新兵]クララ</text><rect class="b" y="1674"/><text x="2" y="1688">[ベース新兵]エミーリア</text><rect class="g" y="1710"/><text x="2" y="1724">[ベース新兵]アンジェラ</text><rect class="g" y="1746"/><text x="2" y="1760">[ベース新兵]クリスタ</text><rect class="y" y="1782"/><text x="2" y="1796">[ベース新兵]ミカエラ</text></g>
<g class="wc" transform="translate(914,0)"><rect class="g" y="1566"/><text x="27.5" y="1580">陽菜</text><rect class="y" y="1602"/><text x="27.5" y="1616">結菜</text><rect class="p" y="1638"/><text x="27.5" y="1652">結愛</text><rect class="y" y="1674"/><text x="27.5" y="1688">ひなた</text><rect class="b" y="1710"/><text x="27.5" y="1724">心春</text><rect class="g" y="1746"/><text x="27.5" y="1760">心愛</text><rect class="y" y="1782"/><text x="27.5" y="1796">凛</text><rect class="p" y="1818"/><text x="27.5" y="1832">美桜</text></g>
<g class="wc" transform="translate(994,0)"><rect class="y" y="1566"/><text x="27.5" y="1580">結菜</text><rect class="p" y="1602"/><text x="27.5" y="1616">結愛</text><rect class="y" y="1638"/><text x="27.5" y="1652">ひなた</text><rect class="b" y="1674"/><text x="27.5" y="1688">心春</text><rect class="g" y="1710"/><text x="27.5" y="1724">心愛</text><rect class="y" y="1746"/><text x="27.5" y="1760">凛</text><rect class="p" y="1782"/><text x="27.5" y="1796">美桜</text><rect class="p" y="1818"/><text x="27.5" y="1832">芽依</text></g>
<g class="wf" transform="translate(1076,0)"><rect class="b" y="1566"/><text x="2" y="1580">[ベース学生]れい</text><rect class="g" y="1602"/><text x="2" y="1616">[ベース学生]みなこ</text><rect class="y" y="1638"/><text x="2" y="1652">[ベース学生]せつな</text><rect class="p" y="1674"/><text x="2" y="1688">[ベース学生]まこと</text><rect class="b" y="1710"/><text x="2" y="1724">[ベース学生]あみ</text><rect class="g" y="1746"/><text x="2" y="1760">[ベース学生]ほたる</text><rect class="y" y="1782"/><text x="2" y="1796">[ベース学生]はるか</text><rect class="p" y="1818"/><text x="2" y="1832">[ベース学生]みちる</text></g>
<g class="we" transform="translate(1293,0)"><rect class="p" y="1566"/><text x="2" y="1580">[ベース新兵]ヘルマ</text><rect class="p" y="1602"/><text x="2" y="1616">[ベース新兵]ドリス</text><rect class="b" y="1638"/><text x="2" y="1652">[ベース新兵]クララ</text><rect class="b" y="1674"/><text x="2" y="1688">[ベース新兵]エミーリア</text><rect class="g" y="1710"/><text x="2" y="1724">[ベース新兵]アンジェラ</text><rect class="g" y="1746"/><text x="2" y="1760">[ベース新兵]クリスタ</text><rect class="y" y="1782"/><text x="2" y="1796">[ベース新兵]ミカエラ</text><rect class="p" y="1818"/><text x="2" y="1832">[ベース新兵]ヘルマ</text></g>
<text class="m" x="980 980 980 980 980 980 980 980" y="1580 1616 1652 1688 1724 1760 1796 1832">××××××××</text>
<text class="m" x="1060 1060 1060 1060 1060 1060 1060 1060" y="1580 1616 1652 1688 1724 1760 1796 1832">→→→→→→→→</text>
<text class="m" x="1279 1279 1279 1279 1279 1279 1279 1279" y="1580 1616 1652 1688 1724 1760 1796 1832">××××××××</text>
<text class="m" x="1508 1508 1508 1508 1508 1508 1508 1508" y="1580 1616 1652 1688 1724 1760 1796 1832">→→→→→→→→</text>
<g class="wg" transform="translate(1522,0)"><rect class="p" y="1566"/><text x="2" y="1580">[軍曹]ヘルマ+</text><rect class="p" y="1602"/><text x="2" y="1616">[軍曹]ドリス+</text><rect class="b" y="1638"/><text x="2" y="1652">[軍曹]クララ+</text><rect class="b" y="1674"/><text x="2" y="1688">[軍曹]エミーリア+</text><rect class="g" y="1710"/><text x="2" y="1724">[軍曹]アンジェラ+</text><rect class="g" y="1746"/><text x="2" y="1760">[軍曹]クリスタ+</text><rect class="y" y="1782"/><text x="2" y="1796">[軍曹]ミカエラ+</text><rect class="y" y="1818"/><text x="2" y="1832">[軍曹]ニーナ+</text><rect class="p" y="1854"/><text x="2" y="1868">[軍曹]ドリス+</text><rect class="y" y="1890"/><text x="2" y="1904">[軍曹]ミカエラ+</text><rect class="b" y="1926"/><text x="2" y="1940">[軍曹]エミーリア+</text><rect class="p" y="1962"/><text x="2" y="1976">[軍曹]ヘルマ+</text><rect class="g" y="1998"/><text x="2" y="2012">[軍曹]クリスタ+</text><rect class="b" y="2034"/><text x="2" y="2048">[軍曹]クララ+</text><rect class="y" y="2070"/><text x="2" y="2084">[軍曹]ニーナ+</text><rect class="g" y="2106"/><text x="2" y="2120">[軍曹]アンジェラ+</text></g>
<text x="1743" y="1598">2体生成</text><text x="1743" y="1670">2体生成</text><text x="1743" y="1742">2体生成</text><text x="1743" y="1814">2体生成</text><text x="1743" y="1886">2体生成</text><text x="1743" y="1958">2体生成</text><text x="1743" y="2030">2体生成</text><text x="1743" y="2102">2体生成</text>
<g class="wh" transform="translate(1832,0)"><rect class="p" y="1584"/><text x="2" y="1598">[少尉]ベッティR</text><rect class="b" y="1656"/><text x="2" y="1670">[少尉]クラウディアR</text><rect class="g" y="1728"/><text x="2" y="1742">[少尉]コルドゥラR</text><rect class="y" y="1800"/><text x="2" y="1814">[少尉]ニーナR</text><rect class="p" y="1872"/><text x="2" y="1886">[陸曹長]ベッティR2</text><rect class="b" y="1944"/><text x="2" y="1958">[陸曹長]クラウディアR2</text><rect class="g" y="2016"/><text x="2" y="2030">[空曹長]コルドゥラR2</text><rect class="y" y="2088"/><text x="2" y="2102">[海曹長]ニーナR2</text></g>
<g class="wh" transform="translate(2065,0)"><rect class="p" y="1584"/><text x="2" y="1598">[少尉]ベッティR</text><rect class="b" y="1656"/><text x="2" y="1670">[少尉]クラウディアR</text><rect class="g" y="1728"/><text x="2" y="1742">[少尉]コルドゥラR</text><rect class="y" y="1800"/><text x="2" y="1814">[少尉]ニーナR</text><rect class="p" y="1872"/><text x="2" y="1886">[陸曹長]ベッティR2</text><rect class="b" y="1944"/><text x="2" y="1958">[陸曹長]クラウディアR2</text><rect class="g" y="2016"/><text x="2" y="2030">[空曹長]コルドゥラR2</text><rect class="y" y="2088"/><text x="2" y="2102">[海曹長]ニーナR2</text></g>
<g class="wi" transform="translate(2282,0)"><rect class="y" y="1584"/><text x="2" y="1598">[魔学生]ミラ</text><rect class="y" y="1656"/><text x="2" y="1670">[魔学生]ミラ</text><rect class="y" y="1728"/><text x="2" y="1742">[魔学生]ミラ</text><rect class="y" y="1800"/><text x="2" y="1814">[魔学生]ミラ</text><rect class="y" y="1872"/><text x="2" y="1886">[聖学生]のぞみ</text><rect class="y" y="1944"/><text x="2" y="1958">[聖学生]のぞみ</text><rect class="y" y="2016"/><text x="2" y="2030">[聖学生]のぞみ</text><rect class="y" y="2088"/><text x="2" y="2102">[聖学生]のぞみ</text></g>
<g class="wj" transform="translate(2423,0)"><rect class="y" y="1584"/><text x="2" y="1598">[奨学生]わらび</text><rect class="g" y="1656"/><text x="2" y="1670">[奨学生]せり</text><rect class="p" y="1728"/><text x="2" y="1742">[奨学生]はこべ</text><rect class="b" y="1800"/><text x="2" y="1814">[奨学生]ごぎょう</text><rect class="y" y="1872"/><text x="2" y="1886">[奨学生]ちどり</text><rect class="b" y="1944"/><text x="2" y="1958">[奨学生]あおい</text><rect class="g" y="2016"/><text x="2" y="2030">[奨学生]あざみ</text><rect class="y" y="2088"/><text x="2" y="2102">[奨学生]すみれ</text></g>
<g class="wj" transform="translate(2574,0)"><rect class="g" y="1584"/><text x="2" y="1598">[奨学生]みずめ</text><rect class="p" y="1656"/><text x="2" y="1670">[奨学生]もくれん</text><rect class="y" y="1728"/><text x="2" y="1742">[奨学生]れんげ</text><rect class="g" y="1800"/><text x="2" y="1814">[奨学生]なつめ</text><rect class="p" y="1872"/><text x="2" y="1886">[奨学生]なでしこ</text><rect class="b" y="1944"/><text x="2" y="1958">[奨学生]くらら</text><rect class="y" y="2016"/><text x="2" y="2030">[奨学生]けやき</text><rect class="p" y="2088"/><text x="2" y="2102">[奨学生]しきみ</text></g>
<g class="wk" transform="translate(2725,0)"><rect class="p" y="1584"/><text x="2" y="1598">[少佐]ローズマリー</text><rect class="p" y="1656"/><text x="2" y="1670">[少佐]グレーテル</text><rect class="b" y="1728"/><text x="2" y="1742">[少佐]コルネリア</text><rect class="g" y="1800"/><text x="2" y="1814">[少佐]ドミニク</text><rect class="p" y="1872"/><text x="2" y="1886">[一等陸尉]エリザベート</text><rect class="b" y="1944"/><text x="2" y="1958">[一等陸尉]ダイアン</text><rect class="g" y="2016"/><text x="2" y="2030">[一等空尉]ヘンリエッテ</text><rect class="g" y="2088"/><text x="2" y="2102">[一等海尉]アストリッド</text></g>
<text x="2949" y="1598">爆乳</text><text x="2949" y="1670">貧乳</text><text x="2949" y="1742">適乳</text><text x="2949" y="1814">爆乳</text><text x="2949" y="1886">貧乳</text><text x="2949" y="1958">貧乳</text><text x="2949" y="2030">爆乳</text><text x="2949" y="2102">適乳</text>
<text class="m" x="1816 1816 1816 1816 1816 1816 1816 1816" y="1598 1670 1742 1814 1886 1958 2030 2102">→→→→→→→→</text>
<text class="m" x="2266 2266 2266 2266 2266 2266 2266 2266" y="1598 1670 1742 1814 1886 1958 2030 2102">++++++++</text>
<text class="m" x="2408 2408 2408 2408 2408 2408 2408 2408" y="1598 1670 1742 1814 1886 1958 2030 2102">++++++++</text>
<text class="m" x="2560 2560 2560 2560 2560 2560 2560 2560" y="1598 1670 1742 1814 1886 1958 2030 2102">++++++++</text>
<text class="m" x="2711 2711 2711 2711 2711 2711 2711 2711" y="1598 1670 1742 1814 1886 1958 2030 2102">→→→→→→→→</text>
</g>

<g id="sec-santa">
<rect class="lb" x="274" y="2178" width="134" height="37"/><text class="m" x="341" y="2201">見習いサンタ</text>
<g class="wc"><rect class="g" x="274" y="2268"/><text x="301.5" y="2282">愛莉</text><rect class="y" x="353" y="2268"/><text x="380.5" y="2282">心音</text></g>
<g class="wd"><rect class="p" x="434" y="2268"/><text x="436" y="2282">[ベース学生]はるな</text></g>
<text class="m" x="340" y="2282">×</text><text class="m" x="420" y="2282">→</text><text class="m" x="589" y="2282">×</text>
<text class="m" x="670 670 670 670 670 670 670" y="2174 2210 2246 2282 2318 2390 2426">→→→→→→→</text>
<g class="wc" transform="translate(603,0)"><rect class="y" y="2160"/><text x="27.5" y="2174">柚希</text><rect class="b" y="2196"/><text x="27.5" y="2210">綾音</text><rect class="g" y="2232"/><text x="27.5" y="2246">杏奈</text><rect class="y" y="2268"/><text x="27.5" y="2282">一花</text><rect class="p" y="2304"/><text x="27.5" y="2318">真央</text><rect class="p" y="2376"/><text x="27.5" y="2390">美羽</text><rect class="b" y="2412"/><text x="27.5" y="2426">結衣</text></g>
<g class="we" transform="translate(684,0)"><rect class="p" y="2160"/><text x="2" y="2174">[ベースサンタ]エリザベト</text><rect class="p" y="2196"/><text x="2" y="2210">[ベースサンタ]ヘレヴィ</text><rect class="b" y="2232"/><text x="2" y="2246">[ベースサンタ]カトラ</text><rect class="b" y="2268"/><text x="2" y="2282">[ベースサンタ]ロヴィッサ</text><rect class="g" y="2304"/><text x="2" y="2318">[ベースサンタ]ミシェレ</text><rect class="y" y="2376"/><text x="2" y="2390">[ベースサンタ]ティッタ</text><rect class="y" y="2412"/><text x="2" y="2426">[ベースサンタ]トリナ</text></g>
<g class="wc" transform="translate(914,0)"><rect class="p" y="2160"/><text x="27.5" y="2174">芽依</text><rect class="b" y="2196"/><text x="27.5" y="2210">優奈</text><rect class="g" y="2232"/><text x="27.5" y="2246">美結</text><rect class="y" y="2268"/><text x="27.5" y="2282">心咲</text><rect class="p" y="2304"/><text x="27.5" y="2318">葵</text><rect class="b" y="2340"/><text x="27.5" y="2354">花音</text><rect class="b" y="2376"/><text x="27.5" y="2390">心菜</text><rect class="g" y="2412"/><text x="27.5" y="2426">愛莉</text></g>
<g class="wc" transform="translate(994,0)"><rect class="b" y="2160"/><text x="27.5" y="2174">優奈</text><rect class="g" y="2196"/><text x="27.5" y="2210">美結</text><rect class="y" y="2232"/><text x="27.5" y="2246">心咲</text><rect class="p" y="2268"/><text x="27.5" y="2282">葵</text><rect class="b" y="2304"/><text x="27.5" y="2318">花音</text><rect class="b" y="2340"/><text x="27.5" y="2354">心菜</text><rect class="g" y="2376"/><text x="27.5" y="2390">愛莉</text><rect class="y" y="2412"/><text x="27.5" y="2426">心音</text></g>
<g class="wf" transform="translate(1076,0)"><rect class="b" y="2160"/><text x="2" y="2174">[ベース学生]まち</text><rect class="g" y="2196"/><text x="2" y="2210">[ベース学生]くみ</text><rect class="y" y="2232"/><text x="2" y="2246">[ベース学生]しほ</text><rect class="p" y="2268"/><text x="2" y="2282">[ベース学生]なるみ</text><rect class="b" y="2304"/><text x="2" y="2318">[ベース学生]ちか</text><rect class="g" y="2340"/><text x="2" y="2354">[ベース学生]なる</text><rect class="y" y="2376"/><text x="2" y="2390">[ベース学生]ゆみこ</text><rect class="p" y="2412"/><text x="2" y="2426">[ベース学生]はるな</text></g>
<g class="we" transform="translate(1293,0)"><rect class="p" y="2160"/><text x="2" y="2174">[ベースサンタ]エリザベト</text><rect class="p" y="2196"/><text x="2" y="2210">[ベースサンタ]ヘレヴィ</text><rect class="b" y="2232"/><text x="2" y="2246">[ベースサンタ]カトラ</text><rect class="b" y="2268"/><text x="2" y="2282">[ベースサンタ]ロヴィッサ</text><rect class="g" y="2304"/><text x="2" y="2318">[ベースサンタ]ミシェレ</text><rect class="g" y="2340"/><text x="2" y="2354">[ベースサンタ]ミシェレ</text><rect class="y" y="2376"/><text x="2" y="2390">[ベースサンタ]ティッタ</text><rect class="y" y="2412"/><text x="2" y="2426">[ベースサンタ]トリナ</text></g>
<text class="m" x="980 980 980 980 980 980 980 980" y="2174 2210 2246 2282 2318 2354 2390 2426">××××××××</text>
<text class="m" x="1060 1060 1060 1060 1060 1060 1060 1060" y="2174 2210 2246 2282 2318 2354 2390 2426">→→→→→→→→</text>
<text class="m" x="1279 1279 1279 1279 1279 1279 1279 1279" y="2174 2210 2246 2282 2318 2354 2390 2426">××××××××</text>
<text class="m" x="1508 1508 1508 1508 1508 1508 1508 1508" y="2174 2210 2246 2282 2318 2354 2390 2426">→→→→→→→→</text>
<g class="wg" transform="translate(1522,0)"><rect class="p" y="2160"/><text x="2" y="2174">[見習いサンタ]エリザベト+</text><rect class="p" y="2196"/><text x="2" y="2210">[見習いサンタ]ヘレヴィ+</text><rect class="b" y="2232"/><text x="2" y="2246">[見習いサンタ]カトラ+</text><rect class="b" y="2268"/><text x="2" y="2282">[見習いサンタ]ロヴィッサ+</text><rect class="g" y="2304"/><text x="2" y="2318">[見習いサンタ]ミシェレ+</text><rect class="g" y="2340"/><text x="2" y="2354">[見習いサンタ]オイリ+</text><rect class="y" y="2376"/><text x="2" y="2390">[見習いサンタ]ティッタ+</text><rect class="y" y="2412"/><text x="2" y="2426">[見習いサンタ]トリナ+</text><rect class="p" y="2466"/><text x="2" y="2480">[見習いサンタ]ヘレヴィ+</text><rect class="y" y="2502"/><text x="2" y="2516">[見習いサンタ]ティッタ+</text><rect class="b" y="2538"/><text x="2" y="2552">[見習いサンタ]ロヴィッサ+</text><rect class="p" y="2574"/><text x="2" y="2588">[見習いサンタ]エリザベト+</text><rect class="g" y="2610"/><text x="2" y="2624">[見習いサンタ]オイリ+</text><rect class="b" y="2646"/><text x="2" y="2660">[見習いサンタ]カトラ+</text><rect class="y" y="2682"/><text x="2" y="2696">[見習いサンタ]トリナ+</text><rect class="g" y="2718"/><text x="2" y="2732">[見習いサンタ]ミシェレ+</text></g>
<text x="1743" y="2192">2体生成</text><text x="1743" y="2264">2体生成</text><text x="1743" y="2336">2体生成</text><text x="1743" y="2408">2体生成</text><text x="1743" y="2498">2体生成</text><text x="1743" y="2570">2体生成</text><text x="1743" y="2642">2体生成</text><text x="1743" y="2714">2体生成</text>
<g class="wh" transform="translate(1832,0)"><rect class="p" y="2178"/><text x="2" y="2192">[見習いサンタ]エリザベトR</text><rect class="b" y="2250"/><text x="2" y="2264">[見習いサンタ]ロヴィッサR</text><rect class="g" y="2322"/><text x="2" y="2336">[見習いサンタ]ミシェレR</text><rect class="y" y="2394"/><text x="2" y="2408">[見習いサンタ]メリカR</text><rect class="p" y="2484"/><text x="2" y="2498">[見習いサンタ]エリザベトR2</text><rect class="b" y="2556"/><text x="2" y="2570">[見習いサンタ]ロヴィッサR2</text><rect class="g" y="2628"/><text x="2" y="2642">[見習いサンタ]ミシェレR2</text><rect class="y" y="2700"/><text x="2" y="2714">[見習いサンタ]メリカR2</text></g>
<g class="wh" transform="translate(2065,0)"><rect class="p" y="2178"/><text x="2" y="2192">[見習いサンタ]エリザベトR</text><rect class="b" y="2250"/><text x="2" y="2264">[見習いサンタ]ロヴィッサR</text><rect class="g" y="2322"/><text x="2" y="2336">[見習いサンタ]ミシェレR</text><rect class="y" y="2394"/><text x="2" y="2408">[見習いサンタ]メリカR</text><rect class="p" y="2484"/><text x="2" y="2498">[見習いサンタ]エリザベトR2</text><rect class="b" y="2556"/><text x="2" y="2570">[見習いサンタ]ロヴィッサR2</text><rect class="g" y="2628"/><text x="2" y="2642">[見習いサンタ]ミシェレR2</text><rect class="y" y="2700"/><text x="2" y="2714">[見習いサンタ]メリカR2</text></g>
<g class="wi" transform="translate(2282,0)"><rect class="y" y="2178"/><text x="2" y="2192">[聖学生]のぞみ</text><rect class="y" y="2250"/><text x="2" y="2264">[聖学生]のぞみ</text><rect class="y" y="2322"/><text x="2" y="2336">[聖学生]のぞみ</text><rect class="y" y="2394"/><text x="2" y="2408">[聖学生]のぞみ</text><rect class="y" y="2484"/><text x="2" y="2498">[聖学生]のぞみ</text><rect class="y" y="2556"/><text x="2" y="2570">[聖学生]のぞみ</text><rect class="y" y="2628"/><text x="2" y="2642">[聖学生]のぞみ</text><rect class="y" y="2700"/><text x="2" y="2714">[聖学生]のぞみ</text></g>
<g class="wj" transform="translate(2423,0)"><rect class="p" y="2178"/><text x="2" y="2192">[奨学生]ふよう</text><rect class="y" y="2250"/><text x="2" y="2264">[奨学生]あんず</text><rect class="b" y="2322"/><text x="2" y="2336">[奨学生]いちご</text><rect class="g" y="2394"/><text x="2" y="2408">[奨学生]うつき</text><rect class="y" y="2484"/><text x="2" y="2498">[奨学生]ゆりか</text><rect class="p" y="2556"/><text x="2" y="2570">[奨学生]かえで</text><rect class="p" y="2628"/><text x="2" y="2642">[奨学生]かすみ</text><rect class="b" y="2700"/><text x="2" y="2714">[奨学生]ききょう</text></g>
<g class="wj" transform="translate(2574,0)"><rect class="b" y="2178"/><text x="2" y="2192">[奨学生]ぼたん</text><rect class="g" y="2250"/><text x="2" y="2264">[奨学生]かげつ</text><rect class="y" y="2322"/><text x="2" y="2336">[奨学生]はぼたん</text><rect class="b" y="2394"/><text x="2" y="2408">[奨学生]すおう</text><rect class="g" y="2484"/><text x="2" y="2498">[奨学生]きび</text><rect class="p" y="2556"/><text x="2" y="2570">[奨学生]たまな</text><rect class="y" y="2628"/><text x="2" y="2642">[奨学生]わらび</text><rect class="g" y="2700"/><text x="2" y="2714">[奨学生]せり</text></g>
<g class="wk" transform="translate(2725,0)"><rect class="p" y="2178"/><text x="2" y="2192">[アマチュアサンタ]ヒルマ</text><rect class="b" y="2250"/><text x="2" y="2264">[アマチュアサンタ]マイリス</text><rect class="b" y="2322"/><text x="2" y="2336">[アマチュアサンタ]マッティラ</text><rect class="g" y="2394"/><text x="2" y="2408">[アマチュアサンタ]エディス</text><rect class="p" y="2484"/><text x="2" y="2498">[サンタ流格闘術師範代]ヴィリヤ</text><rect class="p" y="2556"/><text x="2" y="2570">[サンタ流格闘術師範代]ソニア</text><rect class="b" y="2628"/><text x="2" y="2642">[サンタ流格闘術師範代]アンナマリ</text><rect class="g" y="2700"/><text x="2" y="2714">[サンタ流格闘術師範代]ティーネ</text></g>
<text x="2949" y="2192">貧乳</text><text x="2949" y="2264">適乳</text><text x="2949" y="2336">爆乳</text><text x="2949" y="2408">爆乳</text><text x="2949" y="2498">貧乳</text><text x="2949" y="2570">爆乳</text><text x="2949" y="2642">爆乳</text><text x="2949" y="2714">爆乳</text>
<text class="m" x="1816 1816 1816 1816 1816 1816 1816 1816" y="2192 2264 2336 2408 2498 2570 2642 2714">→→→→→→→→</text>
<text class="m" x="2266 2266 2266 2266 2266 2266 2266 2266" y="2192 2264 2336 2408 2498 2570 2642 2714">++++++++</text>
<text class="m" x="2408 2408 2408 2408 2408 2408 2408 2408" y="2192 2264 2336 2408 2498 2570 2642 2714">++++++++</text>
<text class="m" x="2560 2560 2560 2560 2560 2560 2560 2560" y="2192 2264 2336 2408 2498 2570 2642 2714">++++++++</text>
<text class="m" x="2711 2711 2711 2711 2711 2711 2711 2711" y="2192 2264 2336 2408 2498 2570 2642 2714">→→→→→→→→</text>
</g>

<g id="sec-librarian">
<rect class="lb" x="274" y="2790" width="134" height="37"/><text class="m" x="341" y="2813">司書</text>
<g class="wc" transform="translate(914,0)"><rect class="y" y="2772"/><text x="27.5" y="2786">心音</text><rect class="p" y="2808"/><text x="27.5" y="2822">優愛</text><rect class="g" y="2844"/><text x="27.5" y="2858">陽葵</text><rect class="b" y="2880"/><text x="27.5" y="2894">さくら</text><rect class="g" y="2916"/><text x="27.5" y="2930">芽生</text><rect class="y" y="2952"/><text x="27.5" y="2966">優花</text><rect class="p" y="2988"/><text x="27.5" y="3002">優月</text></g>
<g class="wc" transform="translate(994,0)"><rect class="p" y="2772"/><text x="27.5" y="2786">優愛</text><rect class="g" y="2808"/><text x="27.5" y="2822">陽葵</text><rect class="b" y="2844"/><text x="27.5" y="2858">さくら</text><rect class="g" y="2880"/><text x="27.5" y="2894">芽生</text><rect class="y" y="2916"/><text x="27.5" y="2930">優花</text><rect class="p" y="2952"/><text x="27.5" y="2966">優月</text><rect class="y" y="2988"/><text x="27.5" y="3002">柚希</text></g>
<g class="wf" transform="translate(1076,0)"><rect class="b" y="2772"/><text x="2" y="2786">[ベース学生]るるな</text><rect class="y" y="2808"/><text x="2" y="2822">[ベース学生]ささら</text><rect class="y" y="2844"/><text x="2" y="2858">[ベース学生]みこと</text><rect class="p" y="2880"/><text x="2" y="2894">[ベース学生]れいか</text><rect class="b" y="2916"/><text x="2" y="2930">[ベース学生]ことの</text><rect class="g" y="2952"/><text x="2" y="2966">[ベース学生]ゆめみ</text><rect class="y" y="2988"/><text x="2" y="3002">[ベース学生]なな</text></g>
<g class="we" transform="translate(1293,0)"><rect class="p" y="2772"/><text x="2" y="2786">[ベース司書]望愛</text><rect class="p" y="2808"/><text x="2" y="2822">[ベース司書]花鈴</text><rect class="b" y="2844"/><text x="2" y="2858">[ベース司書]芽生</text><rect class="b" y="2880"/><text x="2" y="2894">[ベース司書]朱里</text><rect class="g" y="2916"/><text x="2" y="2930">[ベース司書]志帆</text><rect class="g" y="2952"/><text x="2" y="2966">[ベース司書]和花</text><rect class="y" y="2988"/><text x="2" y="3002">[ベース司書]さわこ</text></g>
<text class="m" x="980 980 980 980 980 980 980" y="2786 2822 2858 2894 2930 2966 3002">×××××××</text>
<text class="m" x="1060 1060 1060 1060 1060 1060 1060" y="2786 2822 2858 2894 2930 2966 3002">→→→→→→→</text>
<text class="m" x="1279 1279 1279 1279 1279 1279 1279" y="2786 2822 2858 2894 2930 2966 3002">×××××××</text>
<text class="m" x="1508 1508 1508 1508 1508 1508 1508" y="2786 2822 2858 2894 2930 2966 3002">→→→→→→→</text>
<g class="wg" transform="translate(1522,0)"><rect class="p" y="2772"/><text x="2" y="2786">[見習い司書]望愛+</text><rect class="p" y="2808"/><text x="2" y="2822">[見習い司書]花鈴+</text><rect class="b" y="2844"/><text x="2" y="2858">[見習い司書]芽生+</text><rect class="b" y="2880"/><text x="2" y="2894">[見習い司書]朱里+</text><rect class="g" y="2916"/><text x="2" y="2930">[見習い司書]志帆+</text><rect class="g" y="2952"/><text x="2" y="2966">[見習い司書]和花+</text><rect class="y" y="2988"/><text x="2" y="3002">[見習い司書]さわこ+</text><rect class="y" y="3024"/><text x="2" y="3038">[見習い司書]さわこ+</text><rect class="p" y="3078"/><text x="2" y="3092">[見習い司書]望愛+</text><rect class="b" y="3114"/><text x="2" y="3128">[見習い司書]朱里+</text><rect class="b" y="3150"/><text x="2" y="3164">[見習い司書]芽生+</text><rect class="g" y="3186"/><text x="2" y="3200">[見習い司書]和花+</text><rect class="g" y="3222"/><text x="2" y="3236">[見習い司書]志帆+</text><rect class="y" y="3258"/><text x="2" y="3272">[見習い司書]さわこ+</text><rect class="y" y="3294"/><text x="2" y="3308">[見習い司書]さわこ+</text><rect class="p" y="3330"/><text x="2" y="3344">[見習い司書]花鈴+</text></g>
<text x="1743" y="2804">2体生成</text><text x="1743" y="2876">2体生成</text><text x="1743" y="2948">2体生成</text><text x="1743" y="3020">2体生成</text><text x="1743" y="3110">2体生成</text><text x="1743" y="3182">2体生成</text><text x="1743" y="3254">2体生成</text><text x="1743" y="3326">2体生成</text>
<g class="wh" transform="translate(1832,0)"><rect class="p" y="2790"/><text x="2" y="2804">[見習い司書]花鈴R</text><rect class="b" y="2862"/><text x="2" y="2876">[見習い司書]芽生R</text><rect class="g" y="2934"/><text x="2" y="2948">[見習い司書]和花R</text><rect class="y" y="3006"/><text x="2" y="3020">[見習い司書]さわこR</text><rect class="p" y="3096"/><text x="2" y="3110">[見習い司書]花鈴R2</text><rect class="b" y="3168"/><text x="2" y="3182">[見習い司書]芽生R2</text><rect class="g" y="3240"/><text x="2" y="3254">[見習い司書]和花R2</text><rect class="y" y="3312"/><text x="2" y="3326">[見習い司書]さわこR2</text></g>
<g class="wh" transform="translate(2065,0)"><rect class="p" y="2790"/><text x="2" y="2804">[見習い司書]花鈴R</text><rect class="b" y="2862"/><text x="2" y="2876">[見習い司書]芽生R</text><rect class="g" y="2934"/><text x="2" y="2948">[見習い司書]和花R</text><rect class="y" y="3006"/><text x="2" y="3020">[見習い司書]さわこR</text><rect class="p" y="3096"/><text x="2" y="3110">[見習い司書]花鈴R2</text><rect class="b" y="3168"/><text x="2" y="3182">[見習い司書]芽生R2</text><rect class="g" y="3240"/><text x="2" y="3254">[見習い司書]和花R2</text><rect class="y" y="3312"/><text x="2" y="3326">[見習い司書]さわこR2</text></g>
<g class="wi" transform="translate(2282,0)"><rect class="y" y="2790"/><text x="2" y="2804">[魔学生]ミラ</text><rect class="y" y="2862"/><text x="2" y="2876">[魔学生]ミラ</text><rect class="y" y="2934"/><text x="2" y="2948">[魔学生]ミラ</text><rect class="y" y="3006"/><text x="2" y="3020">[魔学生]ミラ</text><rect class="y" y="3096"/><text x="2" y="3110">[聖学生]のぞみ</text><rect class="y" y="3168"/><text x="2" y="3182">[聖学生]のぞみ</text><rect class="y" y="3240"/><text x="2" y="3254">[聖学生]のぞみ</text><rect class="y" y="3312"/><text x="2" y="3326">[聖学生]のぞみ</text></g>
<g class="wj" transform="translate(2423,0)"><rect class="g" y="2790"/><text x="2" y="2804">[奨学生]きり</text><rect class="y" y="2862"/><text x="2" y="2876">[奨学生]こむぎ</text><rect class="p" y="2934"/><text x="2" y="2948">[奨学生]もみじ</text><rect class="b" y="3006"/><text x="2" y="3020">[奨学生]ざくろ</text><rect class="b" y="3096"/><text x="2" y="3110">[奨学生]さら</text><rect class="g" y="3168"/><text x="2" y="3182">[奨学生]さつき</text><rect class="y" y="3240"/><text x="2" y="3254">[奨学生]すもも</text><rect class="p" y="3312"/><text x="2" y="3326">[奨学生]ちゆ</text></g>
<g class="wj" transform="translate(2574,0)"><rect class="p" y="2790"/><text x="2" y="2804">[奨学生]はこべ</text><rect class="b" y="2862"/><text x="2" y="2876">[奨学生]ごぎょう</text><rect class="y" y="2934"/><text x="2" y="2948">[奨学生]ちどり</text><rect class="b" y="3006"/><text x="2" y="3020">[奨学生]あおい</text><rect class="g" y="3096"/><text x="2" y="3110">[奨学生]あざみ</text><rect class="y" y="3168"/><text x="2" y="3182">[奨学生]すみれ</text><rect class="p" y="3240"/><text x="2" y="3254">[奨学生]ふよう</text><rect class="y" y="3312"/><text x="2" y="3326">[奨学生]あんず</text></g>
<g class="wk" transform="translate(2725,0)"><rect class="p" y="2790"/><text x="2" y="2804">[一級司書]トトナ</text><rect class="b" y="2862"/><text x="2" y="2876">[一級司書]ミレボック</text><rect class="g" y="2934"/><text x="2" y="2948">[一級司書]ユーリ</text><rect class="y" y="3006"/><text x="2" y="3020">[一級司書]テナ</text><rect class="p" y="3096"/><text x="2" y="3110">[特級司書]キャリー</text><rect class="b" y="3168"/><text x="2" y="3182">[特級司書]ルイン</text><rect class="g" y="3240"/><text x="2" y="3254">[特級司書]ローリー</text><rect class="y" y="3312"/><text x="2" y="3326">[特級司書]ターノ</text></g>
<text x="2949" y="2804">適乳</text><text x="2949" y="2876">適乳</text><text x="2949" y="2948">適乳</text><text x="2949" y="3020">爆乳</text><text x="2949" y="3110">爆乳</text><text x="2949" y="3182">適乳</text><text x="2949" y="3254">適乳</text><text x="2949" y="3326">貧乳</text>
<text class="m" x="1816 1816 1816 1816 1816 1816 1816 1816" y="2804 2876 2948 3020 3110 3182 3254 3326">→→→→→→→→</text>
<text class="m" x="2266 2266 2266 2266 2266 2266 2266 2266" y="2804 2876 2948 3020 3110 3182 3254 3326">++++++++</text>
<text class="m" x="2408 2408 2408 2408 2408 2408 2408 2408" y="2804 2876 2948 3020 3110 3182 3254 3326">++++++++</text>
<text class="m" x="2560 2560 2560 2560 2560 2560 2560 2560" y="2804 2876 2948 3020 3110 3182 3254 3326">++++++++</text>
<text class="m" x="2711 2711 2711 2711 2711 2711 2711 2711" y="2804 2876 2948 3020 3110 3182 3254 3326">→→→→→→→→</text>
</g>

<g id="sec-heishi">
<rect class="lb" x="274" y="3402" width="134" height="37"/><text class="m" x="341" y="3425">兵士</text>
<g class="wc" transform="translate(914,0)"><rect class="y" y="3384"/><text x="27.5" y="3398">柚希</text><rect class="b" y="3420"/><text x="27.5" y="3434">綾音</text><rect class="g" y="3456"/><text x="27.5" y="3470">杏奈</text><rect class="y" y="3492"/><text x="27.5" y="3506">一花</text><rect class="p" y="3528"/><text x="27.5" y="3542">真央</text><rect class="b" y="3564"/><text x="27.5" y="3578">結衣</text><rect class="g" y="3600"/><text x="27.5" y="3614">陽菜</text></g>
<g class="wc" transform="translate(994,0)"><rect class="b" y="3384"/><text x="27.5" y="3398">綾音</text><rect class="g" y="3420"/><text x="27.5" y="3434">杏奈</text><rect class="y" y="3456"/><text x="27.5" y="3470">一花</text><rect class="p" y="3492"/><text x="27.5" y="3506">真央</text><rect class="p" y="3528"/><text x="27.5" y="3542">美羽</text><rect class="g" y="3564"/><text x="27.5" y="3578">陽菜</text><rect class="y" y="3600"/><text x="27.5" y="3614">結菜</text></g>
<g class="wf" transform="translate(1076,0)"><rect class="p" y="3384"/><text x="2" y="3398">[ベース学生]なつみ</text><rect class="b" y="3420"/><text x="2" y="3434">[ベース学生]かおる</text><rect class="g" y="3456"/><text x="2" y="3470">[ベース学生]りん</text><rect class="y" y="3492"/><text x="2" y="3506">[ベース学生]うらら</text><rect class="y" y="3528"/><text x="2" y="3542">[ベース学生]こまち</text><rect class="p" y="3564"/><text x="2" y="3578">[ベース学生]うさぎ</text><rect class="b" y="3600"/><text x="2" y="3614">[ベース学生]れい</text></g>
<g class="we" transform="translate(1293,0)"><rect class="p" y="3384"/><text x="2" y="3398">[ベース兵士]アイシズ</text><rect class="p" y="3420"/><text x="2" y="3434">[ベース兵士]トバイ</text><rect class="b" y="3456"/><text x="2" y="3470">[ベース兵士]ラィ</text><rect class="b" y="3492"/><text x="2" y="3506">[ベース兵士]ラハト</text><rect class="g" y="3528"/><text x="2" y="3542">[ベース兵士]ノイ</text><rect class="g" y="3564"/><text x="2" y="3578">[ベース兵士]ツベル</text><rect class="y" y="3600"/><text x="2" y="3614">[ベース兵士]エル</text></g>
<text class="m" x="980 980 980 980 980 980 980" y="3398 3434 3470 3506 3542 3578 3614">×××××××</text>
<text class="m" x="1060 1060 1060 1060 1060 1060 1060" y="3398 3434 3470 3506 3542 3578 3614">→→→→→→→</text>
<text class="m" x="1279 1279 1279 1279 1279 1279 1279" y="3398 3434 3470 3506 3542 3578 3614">×××××××</text>
<text class="m" x="1508 1508 1508 1508 1508 1508 1508" y="3398 3434 3470 3506 3542 3578 3614">→→→→→→→</text>
<g class="wg" transform="translate(1522,0)"><rect class="p" y="3384"/><text x="2" y="3398">[新米兵士]アイシズ+</text><rect class="p" y="3420"/><text x="2" y="3434">[新米兵士]トバイ+</text><rect class="b" y="3456"/><text x="2" y="3470">[新米兵士]ラィ+</text><rect class="b" y="3492"/><text x="2" y="3506">[新米兵士]ラハト+</text><rect class="g" y="3528"/><text x="2" y="3542">[新米兵士]ノイ+</text><rect class="g" y="3564"/><text x="2" y="3578">[新米兵士]ツベル+</text><rect class="y" y="3600"/><text x="2" y="3614">[新米兵士]エル+</text><rect class="y" y="3636"/><text x="2" y="3650">[新米兵士]エル+</text><rect class="y" y="3690"/><text x="2" y="3704">[新米兵士]エル+</text><rect class="p" y="3726"/><text x="2" y="3740">[新米兵士]アイシズ+</text><rect class="p" y="3762"/><text x="2" y="3776">[新米兵士]トバイ+</text><rect class="b" y="3798"/><text x="2" y="3812">[新米兵士]ラィ+</text><rect class="b" y="3834"/><text x="2" y="3848">[新米兵士]ラハト+</text><rect class="g" y="3870"/><text x="2" y="3884">[新米兵士]ノイ+</text><rect class="g" y="3906"/><text x="2" y="3920">[新米兵士]ツベル+</text><rect class="y" y="3942"/><text x="2" y="3956">[新米兵士]エル+</text></g>
<text x="1743" y="3416">2体生成</text><text x="1743" y="3488">2体生成</text><text x="1743" y="3560">2体生成</text><text x="1743" y="3632">2体生成</text><text x="1743" y="3722">2体生成</text><text x="1743" y="3794">2体生成</text><text x="1743" y="3866">2体生成</text><text x="1743" y="3938">2体生成</text>
<g class="wh" transform="translate(1832,0)"><rect class="p" y="3402"/><text x="2" y="3416">[新米兵士]アイシズR</text><rect class="b" y="3474"/><text x="2" y="3488">[新米兵士]ラィR</text><rect class="g" y="3546"/><text x="2" y="3560">[新米兵士]ノイR</text><rect class="y" y="3618"/><text x="2" y="3632">[新米兵士]エルR</text><rect class="p" y="3708"/><text x="2" y="3722">[新米兵士]アイシズR2</text><rect class="b" y="3780"/><text x="2" y="3794">[新米兵士]ラィR2</text><rect class="g" y="3852"/><text x="2" y="3866">[新米兵士]ノイR2</text><rect class="y" y="3924"/><text x="2" y="3938">[新米兵士]エルR2</text></g>
<g class="wh" transform="translate(2065,0)"><rect class="p" y="3402"/><text x="2" y="3416">[新米兵士]アイシズR</text><rect class="b" y="3474"/><text x="2" y="3488">[新米兵士]ラィR</text><rect class="g" y="3546"/><text x="2" y="3560">[新米兵士]ノイR</text><rect class="y" y="3618"/><text x="2" y="3632">[新米兵士]エルR</text><rect class="p" y="3708"/><text x="2" y="3722">[新米兵士]アイシズR2</text><rect class="b" y="3780"/><text x="2" y="3794">[新米兵士]ラィR2</text><rect class="g" y="3852"/><text x="2" y="3866">[新米兵士]ノイR2</text><rect class="y" y="3924"/><text x="2" y="3938">[新米兵士]エルR2</text></g>
<g class="wi" transform="translate(2282,0)"><rect class="y" y="3402"/><text x="2" y="3416">[聖学生]のぞみ</text><rect class="y" y="3474"/><text x="2" y="3488">[聖学生]のぞみ</text><rect class="y" y="3546"/><text x="2" y="3560">[聖学生]のぞみ</text><rect class="y" y="3618"/><text x="2" y="3632">[聖学生]のぞみ</text><rect class="y" y="3708"/><text x="2" y="3722">[聖学生]のぞみ</text><rect class="y" y="3780"/><text x="2" y="3794">[聖学生]のぞみ</text><rect class="y" y="3852"/><text x="2" y="3866">[聖学生]のぞみ</text><rect class="y" y="3924"/><text x="2" y="3938">[聖学生]のぞみ</text></g>
<g class="wj" transform="translate(2423,0)"><rect class="g" y="3402"/><text x="2" y="3416">[奨学生]つくし</text><rect class="b" y="3474"/><text x="2" y="3488">[奨学生]つばき</text><rect class="g" y="3546"/><text x="2" y="3560">[奨学生]なぎ</text><rect class="y" y="3618"/><text x="2" y="3632">[奨学生]なずな</text><rect class="p" y="3708"/><text x="2" y="3722">[奨学生]にちか</text><rect class="y" y="3780"/><text x="2" y="3794">[奨学生]はつみ</text><rect class="b" y="3852"/><text x="2" y="3866">[奨学生]ひさぎ</text><rect class="g" y="3924"/><text x="2" y="3938">[奨学生]ひなぎく</text></g>
<g class="wj" transform="translate(2574,0)"><rect class="b" y="3402"/><text x="2" y="3416">[奨学生]いちご</text><rect class="g" y="3474"/><text x="2" y="3488">[奨学生]うつき</text><rect class="y" y="3546"/><text x="2" y="3560">[奨学生]ゆりか</text><rect class="p" y="3618"/><text x="2" y="3632">[奨学生]かえで</text><rect class="p" y="3708"/><text x="2" y="3722">[奨学生]かすみ</text><rect class="b" y="3780"/><text x="2" y="3794">[奨学生]ききょう</text><rect class="g" y="3852"/><text x="2" y="3866">[奨学生]きり</text><rect class="y" y="3924"/><text x="2" y="3938">[奨学生]こむぎ</text></g>
<g class="wk" transform="translate(2725,0)"><rect class="p" y="3402"/><text x="2" y="3416">[一流兵士]マニヤ</text><rect class="b" y="3474"/><text x="2" y="3488">[一流兵士]ディート</text><rect class="g" y="3546"/><text x="2" y="3560">[一流兵士]ファメラ</text><rect class="y" y="3618"/><text x="2" y="3632">[一流兵士]フェリー</text><rect class="p" y="3708"/><text x="2" y="3722">[エリート兵士]ロータ</text><rect class="b" y="3780"/><text x="2" y="3794">[エリート兵士]サール</text><rect class="g" y="3852"/><text x="2" y="3866">[エリート兵士]フリス</text><rect class="y" y="3924"/><text x="2" y="3938">[エリート兵士]ルンド</text></g>
<text x="2949" y="3416">適乳</text><text x="2949" y="3488">貧乳</text><text x="2949" y="3560">適乳</text><text x="2949" y="3632">爆乳</text><text x="2949" y="3722">適乳</text><text x="2949" y="3794">貧乳</text><text x="2949" y="3866">適乳</text><text x="2949" y="3938">爆乳</text>
<text class="m" x="1816 1816 1816 1816 1816 1816 1816 1816" y="3416 3488 3560 3632 3722 3794 3866 3938">→→→→→→→→</text>
<text class="m" x="2266 2266 2266 2266 2266 2266 2266 2266" y="3416 3488 3560 3632 3722 3794 3866 3938">++++++++</text>
<text class="m" x="2408 2408 2408 2408 2408 2408 2408 2408" y="3416 3488 3560 3632 3722 3794 3866 3938">++++++++</text>
<text class="m" x="2560 2560 2560 2560 2560 2560 2560 2560" y="3416 3488 3560 3632 3722 3794 3866 3938">++++++++</text>
<text class="m" x="2711 2711 2711 2711 2711 2711 2711 2711" y="3416 3488 3560 3632 3722 3794 3866 3938">→→→→→→→→</text>
</g>

<g id="sec-wanderer">
<rect class="lb" x="274" y="4014" width="134" height="37"/><text class="m" x="341" y="4037">風来人</text>
<g class="wc" transform="translate(914,0)"><rect class="y" y="3996"/><text x="27.5" y="4010">結菜</text><rect class="p" y="4032"/><text x="27.5" y="4046">結愛</text><rect class="y" y="4068"/><text x="27.5" y="4082">ひなた</text><rect class="b" y="4104"/><text x="27.5" y="4118">心春</text><rect class="g" y="4140"/><text x="27.5" y="4154">心愛</text><rect class="y" y="4176"/><text x="27.5" y="4190">凛</text><rect class="p" y="4212"/><text x="27.5" y="4226">美桜</text></g>
<g class="wc" transform="translate(994,0)"><rect class="p" y="3996"/><text x="27.5" y="4010">結愛</text><rect class="y" y="4032"/><text x="27.5" y="4046">ひなた</text><rect class="b" y="4068"/><text x="27.5" y="4082">心春</text><rect class="g" y="4104"/><text x="27.5" y="4118">心愛</text><rect class="y" y="4140"/><text x="27.5" y="4154">凛</text><rect class="p" y="4176"/><text x="27.5" y="4190">美桜</text><rect class="p" y="4212"/><text x="27.5" y="4226">芽依</text></g>
<g class="wf" transform="translate(1076,0)"><rect class="g" y="3996"/><text x="2" y="4010">[ベース学生]みなこ</text><rect class="y" y="4032"/><text x="2" y="4046">[ベース学生]せつな</text><rect class="p" y="4068"/><text x="2" y="4082">[ベース学生]まこと</text><rect class="b" y="4104"/><text x="2" y="4118">[ベース学生]あみ</text><rect class="g" y="4140"/><text x="2" y="4154">[ベース学生]ほたる</text><rect class="y" y="4176"/><text x="2" y="4190">[ベース学生]はるか</text><rect class="p" y="4212"/><text x="2" y="4226">[ベース学生]みちる</text></g>
<g class="we" transform="translate(1293,0)"><rect class="p" y="3996"/><text x="2" y="4010">[ベース風来人]くちる</text><rect class="p" y="4032"/><text x="2" y="4046">[ベース風来人]くい</text><rect class="b" y="4068"/><text x="2" y="4082">[ベース風来人]きね</text><rect class="b" y="4104"/><text x="2" y="4118">[ベース風来人]まくら</text><rect class="g" y="4140"/><text x="2" y="4154">[ベース風来人]とぼそ</text><rect class="g" y="4176"/><text x="2" y="4190">[ベース風来人]かしわ</text><rect class="y" y="4212"/><text x="2" y="4226">[ベース風来人]すもも</text></g>
<text class="m" x="980 980 980 980 980 980 980" y="4010 4046 4082 4118 4154 4190 4226">×××××××</text>
<text class="m" x="1060 1060 1060 1060 1060 1060 1060" y="4010 4046 4082 4118 4154 4190 4226">→→→→→→→</text>
<text class="m" x="1279 1279 1279 1279 1279 1279 1279" y="4010 4046 4082 4118 4154 4190 4226">×××××××</text>
<text class="m" x="1508 1508 1508 1508 1508 1508 1508" y="4010 4046 4082 4118 4154 4190 4226">→→→→→→→</text>
<g class="wg" transform="translate(1522,0)"><rect class="p" y="3996"/><text x="2" y="4010">[新米風来人]くちる+</text><rect class="p" y="4032"/><text x="2" y="4046">[新米風来人]くい+</text><rect class="b" y="4068"/><text x="2" y="4082">[新米風来人]きね+</text><rect class="b" y="4104"/><text x="2" y="4118">[新米風来人]まくら+</text><rect class="g" y="4140"/><text x="2" y="4154">[新米風来人]とぼそ+</text><rect class="g" y="4176"/><text x="2" y="4190">[新米風来人]かしわ+</text><rect class="y" y="4212"/><text x="2" y="4226">[新米風来人]すもも+</text><rect class="y" y="4248"/><text x="2" y="4262">[新米風来人]すもも+</text><rect class="y" y="4302"/><text x="2" y="4316">[新米風来人]すもも+</text><rect class="p" y="4338"/><text x="2" y="4352">[新米風来人]くちる+</text><rect class="p" y="4374"/><text x="2" y="4388">[新米風来人]くい+</text><rect class="b" y="4410"/><text x="2" y="4424">[新米風来人]きね+</text><rect class="b" y="4446"/><text x="2" y="4460">[新米風来人]まくら+</text><rect class="g" y="4482"/><text x="2" y="4496">[新米風来人]とぼそ+</text><rect class="g" y="4518"/><text x="2" y="4532">[新米風来人]かしわ+</text><rect class="y" y="4554"/><text x="2" y="4568">[新米風来人]すもも+</text></g>
<text x="1743" y="4028">2体生成</text><text x="1743" y="4100">2体生成</text><text x="1743" y="4172">2体生成</text><text x="1743" y="4244">2体生成</text><text x="1743" y="4334">2体生成</text><text x="1743" y="4406">2体生成</text><text x="1743" y="4478">2体生成</text><text x="1743" y="4550">2体生成</text>
<g class="wh" transform="translate(1832,0)"><rect class="p" y="4014"/><text x="2" y="4028">[新米風来人]くちるR</text><rect class="b" y="4086"/><text x="2" y="4100">[新米風来人]きねR</text><rect class="g" y="4158"/><text x="2" y="4172">[新米風来人]とぼそR</text><rect class="y" y="4230"/><text x="2" y="4244">[新米風来人]すももR</text><rect class="p" y="4320"/><text x="2" y="4334">[新米風来人]くちるR2</text><rect class="b" y="4392"/><text x="2" y="4406">[新米風来人]きねR2</text><rect class="g" y="4464"/><text x="2" y="4478">[新米風来人]とぼそR2</text><rect class="y" y="4536"/><text x="2" y="4550">[新米風来人]すももR2</text></g>
<g class="wh" transform="translate(2065,0)"><rect class="p" y="4014"/><text x="2" y="4028">[新米風来人]くちるR</text><rect class="b" y="4086"/><text x="2" y="4100">[新米風来人]きねR</text><rect class="g" y="4158"/><text x="2" y="4172">[新米風来人]とぼそR</text><rect class="y" y="4230"/><text x="2" y="4244">[新米風来人]すももR</text><rect class="p" y="4320"/><text x="2" y="4334">[新米風来人]くちるR2</text><rect class="b" y="4392"/><text x="2" y="4406">[新米風来人]きねR2</text><rect class="g" y="4464"/><text x="2" y="4478">[新米風来人]とぼそR2</text><rect class="y" y="4536"/><text x="2" y="4550">[新米風来人]すももR2</text></g>
<g class="wi" transform="translate(2282,0)"><rect class="y" y="4014"/><text x="2" y="4028">[魔学生]ミラ</text><rect class="y" y="4086"/><text x="2" y="4100">[魔学生]ミラ</text><rect class="y" y="4158"/><text x="2" y="4172">[魔学生]ミラ</text><rect class="y" y="4230"/><text x="2" y="4244">[魔学生]ミラ</text><rect class="y" y="4320"/><text x="2" y="4334">[魔学生]ミラ</text><rect class="y" y="4392"/><text x="2" y="4406">[魔学生]ミラ</text><rect class="y" y="4464"/><text x="2" y="4478">[魔学生]ミラ</text><rect class="y" y="4536"/><text x="2" y="4550">[魔学生]ミラ</text></g>
<g class="wj" transform="translate(2423,0)"><rect class="y" y="4014"/><text x="2" y="4028">[奨学生]ひまわり</text><rect class="p" y="4086"/><text x="2" y="4100">[奨学生]まき</text><rect class="p" y="4158"/><text x="2" y="4172">[奨学生]まさき</text><rect class="p" y="4230"/><text x="2" y="4244">[奨学生]ゆうがお</text><rect class="b" y="4320"/><text x="2" y="4334">[奨学生]さざんか</text><rect class="g" y="4392"/><text x="2" y="4406">[奨学生]すいれん</text><rect class="y" y="4464"/><text x="2" y="4478">[奨学生]あさがお</text><rect class="b" y="4536"/><text x="2" y="4550">[奨学生]すずらん</text></g>
<g class="wj" transform="translate(2574,0)"><rect class="p" y="4014"/><text x="2" y="4028">[奨学生]もみじ</text><rect class="b" y="4086"/><text x="2" y="4100">[奨学生]ざくろ</text><rect class="b" y="4158"/><text x="2" y="4172">[奨学生]さら</text><rect class="g" y="4230"/><text x="2" y="4244">[奨学生]さつき</text><rect class="y" y="4320"/><text x="2" y="4334">[奨学生]すもも</text><rect class="p" y="4392"/><text x="2" y="4406">[奨学生]ちゆ</text><rect class="g" y="4464"/><text x="2" y="4478">[奨学生]つくし</text><rect class="b" y="4536"/><text x="2" y="4550">[奨学生]つばき</text></g>
<g class="wk" transform="translate(2725,0)"><rect class="p" y="4014"/><text x="2" y="4028">[一流風来人]つばき</text><rect class="b" y="4086"/><text x="2" y="4100">[一流風来人]ひばり</text><rect class="g" y="4158"/><text x="2" y="4172">[一流風来人]りん</text><rect class="y" y="4230"/><text x="2" y="4244">[一流風来人]ひめ</text><rect class="p" y="4320"/><text x="2" y="4334">[一級風来人]みなも</text><rect class="b" y="4392"/><text x="2" y="4406">[一級風来人]きあら</text><rect class="g" y="4464"/><text x="2" y="4478">[一級風来人]たお</text><rect class="y" y="4536"/><text x="2" y="4550">[一級風来人]ふみ</text></g>
<text x="2949" y="4028">適乳</text><text x="2949" y="4100">貧乳</text><text x="2949" y="4172">適乳</text><text x="2949" y="4244">爆乳</text><text x="2949" y="4334">適乳</text><text x="2949" y="4406">貧乳</text><text x="2949" y="4478">適乳</text><text x="2949" y="4550">爆乳</text>
<text class="m" x="1816 1816 1816 1816 1816 1816 1816 1816" y="4028 4100 4172 4244 4334 4406 4478 4550">→→→→→→→→</text>
<text class="m" x="2266 2266 2266 2266 2266 2266 2266 2266" y="4028 4100 4172 4244 4334 4406 4478 4550">++++++++</text>
<text class="m" x="2408 2408 2408 2408 2408 2408 2408 2408" y="4028 4100 4172 4244 4334 4406 4478 4550">++++++++</text>
<text class="m" x="2560 2560 2560 2560 2560 2560 2560 2560" y="4028 4100 4172 4244 4334 4406 4478 4550">++++++++</text>
<text class="m" x="2711 2711 2711 2711 2711 2711 2711 2711" y="4028 4100 4172 4244 4334 4406 4478 4550">→→→→→→→→</text>
</g>

<g id="sec-dollmaster">
<rect class="lb" x="274" y="4626" width="134" height="37"/><text class="m" x="341" y="4649">ドールマスター</text>
<g class="wg" transform="translate(1522,0)"><rect class="p" y="4608"/><text x="2" y="4622">ニル+</text><rect class="p" y="4644"/><text x="2" y="4658">プリメ+</text><rect class="b" y="4680"/><text x="2" y="4694">アイリス+</text><rect class="b" y="4716"/><text x="2" y="4730">エレクタ+</text><rect class="g" y="4752"/><text x="2" y="4766">ベラ+</text><rect class="g" y="4788"/><text x="2" y="4802">カレン+</text><rect class="p" y="4824"/><text x="2" y="4838">ランジア+</text><rect class="p" y="4860"/><text x="2" y="4874">アストル+</text><rect class="b" y="4896"/><text x="2" y="4910">ロメリア+</text><rect class="b" y="4932"/><text x="2" y="4946">リリウム+</text><rect class="g" y="4968"/><text x="2" y="4982">メント+</text><rect class="g" y="5004"/><text x="2" y="5018">サティ+</text></g>
<text x="1743" y="4640">2体生成</text><text x="1743" y="4712">2体生成</text><text x="1743" y="4784">2体生成</text><text x="1743" y="4856">2体生成</text><text x="1743" y="4928">2体生成</text><text x="1743" y="5000">2体生成</text>
<g class="wh" transform="translate(1832,0)"><rect class="p" y="4626"/><text x="2" y="4640">ニルR</text><rect class="b" y="4698"/><text x="2" y="4712">アイリスR</text><rect class="g" y="4770"/><text x="2" y="4784">ベラR</text><rect class="p" y="4842"/><text x="2" y="4856">ランジアR</text><rect class="b" y="4914"/><text x="2" y="4928">ロメリアR</text><rect class="g" y="4986"/><text x="2" y="5000">メントR</text></g>
<g class="wh" transform="translate(2065,0)"><rect class="p" y="4626"/><text x="2" y="4640">ニルR</text><rect class="b" y="4698"/><text x="2" y="4712">アイリスR</text><rect class="g" y="4770"/><text x="2" y="4784">ベラR</text><rect class="p" y="4842"/><text x="2" y="4856">ランジアR</text><rect class="b" y="4914"/><text x="2" y="4928">ロメリアR</text><rect class="g" y="4986"/><text x="2" y="5000">メントR</text></g>
<g class="wi" transform="translate(2282,0)"><rect class="y" y="4626"/><text x="2" y="4640">[聖学生]のぞみ</text><rect class="y" y="4698"/><text x="2" y="4712">[聖学生]のぞみ</text><rect class="y" y="4770"/><text x="2" y="4784">[聖学生]のぞみ</text><rect class="y" y="4842"/><text x="2" y="4856">[魔学生]ミラ</text><rect class="y" y="4914"/><text x="2" y="4928">[魔学生]ミラ</text><rect class="y" y="4986"/><text x="2" y="5000">[魔学生]ミラ</text></g>
<g class="wj" transform="translate(2423,0)"><rect class="g" y="4626"/><text x="2" y="4640">[奨学生]みずめ</text><rect class="p" y="4698"/><text x="2" y="4712">[奨学生]もくれん</text><rect class="y" y="4770"/><text x="2" y="4784">[奨学生]れんげ</text><rect class="g" y="4842"/><text x="2" y="4856">[奨学生]なつめ</text><rect class="p" y="4914"/><text x="2" y="4928">[奨学生]なでしこ</text><rect class="b" y="4986"/><text x="2" y="5000">[奨学生]くらら</text></g>
<g class="wj" transform="translate(2574,0)"><rect class="g" y="4626"/><text x="2" y="4640">[奨学生]なぎ</text><rect class="y" y="4698"/><text x="2" y="4712">[奨学生]なずな</text><rect class="p" y="4770"/><text x="2" y="4784">[奨学生]にちか</text><rect class="y" y="4842"/><text x="2" y="4856">[奨学生]はつみ</text><rect class="b" y="4914"/><text x="2" y="4928">[奨学生]ひさぎ</text><rect class="g" y="4986"/><text x="2" y="5000">[奨学生]ひなぎく</text></g>
<g class="wk" transform="translate(2725,0)"><rect class="p" y="4626"/><text x="2" y="4640">[人形使い]リム</text><rect class="b" y="4698"/><text x="2" y="4712">[人形使い]プラハ</text><rect class="g" y="4770"/><text x="2" y="4784">[人形使い]ティファニー</text><rect class="p" y="4842"/><text x="2" y="4856">[人形使い]ドミノ</text><rect class="b" y="4914"/><text x="2" y="4928">[人形使い]シルバー</text><rect class="g" y="4986"/><text x="2" y="5000">[人形使い]トリノ</text></g>
<text x="2949" y="4640">貧乳</text><text x="2949" y="4712">適乳</text><text x="2949" y="4784">適乳</text><text x="2949" y="4856">適乳</text><text x="2949" y="4928">適乳</text><text x="2949" y="5000">貧乳</text>
<text class="m" x="1816 1816 1816 1816 1816 1816" y="4640 4712 4784 4856 4928 5000">→→→→→→</text>
<text class="m" x="2266 2266 2266 2266 2266 2266" y="4640 4712 4784 4856 4928 5000">++++++</text>
<text class="m" x="2408 2408 2408 2408 2408 2408" y="4640 4712 4784 4856 4928 5000">++++++</text>
<text class="m" x="2560 2560 2560 2560 2560 2560" y="4640 4712 4784 4856 4928 5000">++++++</text>
<text class="m" x="2711 2711 2711 2711 2711 2711" y="4640 4712 4784 4856 4928 5000">→→→→→→</text>
</g>

<g id="sec-nozomi">
<rect class="ld" x="274" y="5058" width="134" height="37"/><text class="m" x="341" y="5081">[聖学生]のぞみ</text>
<g class="wc"><rect class="b" x="274" y="5220"/><text x="301.5" y="5234">結衣</text><rect class="g" x="353" y="5220"/><text x="380.5" y="5234">陽菜</text></g>
<g class="wd"><rect class="p" x="434" y="5220"/><text x="436" y="5234">[ベース学生]うさぎ</text></g>
<text class="m" x="340" y="5234">×</text><text class="m" x="420" y="5234">→</text><text class="m" x="589" y="5234">×</text>
<text class="m" x="670 670 670 670 670 670 670 670 670 670" y="5072 5108 5144 5180 5216 5252 5288 5324 5360 5396">→→→→→→→→→→</text>
<g class="wc" transform="translate(603,0)"><rect class="b" y="5058"/><text x="27.5" y="5072">結衣</text><rect class="g" y="5094"/><text x="27.5" y="5108">陽菜</text><rect class="y" y="5130"/><text x="27.5" y="5144">結菜</text><rect class="p" y="5166"/><text x="27.5" y="5180">結愛</text><rect class="y" y="5202"/><text x="27.5" y="5216">ひなた</text><rect class="b" y="5238"/><text x="27.5" y="5252">心春</text><rect class="g" y="5274"/><text x="27.5" y="5288">心愛</text><rect class="b" y="5310"/><text x="27.5" y="5324">心春</text><rect class="g" y="5346"/><text x="27.5" y="5360">心愛</text><rect class="b" y="5382"/><text x="27.5" y="5396">心春</text></g>
<g class="we" transform="translate(684,0)"><rect class="p" y="5058"/><text x="2" y="5072">[ベースエンジェル]ホワイト</text><rect class="b" y="5094"/><text x="2" y="5108">[ベースエンジェル]ブルー</text><rect class="g" y="5130"/><text x="2" y="5144">[ベースエンジェル]レッド</text><rect class="y" y="5166"/><text x="2" y="5180">[ベースエンジェル]ゴールド</text><rect class="p" y="5202"/><text x="2" y="5216">[ベースエンジェル]ピンク</text><rect class="b" y="5238"/><text x="2" y="5252">[ベースエンジェル]パープル</text><rect class="g" y="5274"/><text x="2" y="5288">[ベースエンジェル]グリーン</text><rect class="b" y="5310"/><text x="2" y="5324">[ベースエンジェル]パープル</text><rect class="g" y="5346"/><text x="2" y="5360">[ベースエンジェル]グリーン</text><rect class="b" y="5382"/><text x="2" y="5396">[ベースエンジェル]パープル</text></g>
<g class="wf" transform="translate(1076,0)"><rect class="p" y="5058"/><text x="2" y="5072">[ベースエンジェル]ホワイト</text><rect class="b" y="5094"/><text x="2" y="5108">[ベースエンジェル]ブルー</text><rect class="g" y="5130"/><text x="2" y="5144">[ベースエンジェル]レッド</text><rect class="y" y="5166"/><text x="2" y="5180">[ベースエンジェル]ゴールド</text><rect class="p" y="5202"/><text x="2" y="5216">[ベースエンジェル]ピンク</text></g>
<g class="we" transform="translate(1293,0)"><rect class="b" y="5058"/><text x="2" y="5072">[ベースエンジェル]パープル</text><rect class="g" y="5094"/><text x="2" y="5108">[ベースエンジェル]グリーン</text><rect class="b" y="5130"/><text x="2" y="5144">[ベースエンジェル]パープル</text><rect class="g" y="5166"/><text x="2" y="5180">[ベースエンジェル]グリーン</text><rect class="b" y="5202"/><text x="2" y="5216">[ベースエンジェル]パープル</text></g>
<text class="m" x="941 941 941 941 941" y="5072 5108 5144 5180 5216">→→→→→</text>
<text class="m" x="1279 1279 1279 1279 1279" y="5072 5108 5144 5180 5216">×××××</text>
<text class="m" x="1508 1508 1508 1508 1508" y="5072 5108 5144 5180 5216">→→→→→</text>
<g class="wg" transform="translate(1522,0)"><rect class="y" y="5058"/><text x="2" y="5072">[片翼天使]結衣</text><rect class="p" y="5094"/><text x="2" y="5108">[片翼天使]陽菜</text><rect class="b" y="5130"/><text x="2" y="5144">[片翼天使]結菜</text><rect class="b" y="5166"/><text x="2" y="5180">[片翼天使]結愛</text><rect class="g" y="5202"/><text x="2" y="5216">[片翼天使]ひなた</text></g>
<rect x="1735" y="5130" width="70" height="19" fill="#FF0000"/><text class="m w" x="1770" y="5144">5体生成</text>
<text class="m" x="1818" y="5144">→</text>
<g class="wh" transform="translate(1832,0)"><rect class="y" y="5130"/><text x="2" y="5144">[聖学生]のぞみ</text></g>
</g>

<g id="sec-mira">
<rect class="ld" x="274" y="5436" width="134" height="37"/><text class="m" x="341" y="5459">[魔学生]ミラ</text>
<g class="wc"><rect class="g" x="274" y="5598"/><text x="301.5" y="5612">陽菜</text><rect class="y" x="353" y="5598"/><text x="380.5" y="5612">結菜</text></g>
<g class="wd"><rect class="b" x="434" y="5598"/><text x="436" y="5612">[ベース学生]れい</text></g>
<text class="m" x="340" y="5612">×</text><text class="m" x="420" y="5612">→</text><text class="m" x="589" y="5612">×</text>
<text class="m" x="670 670 670 670 670 670 670 670 670 670" y="5450 5486 5522 5558 5594 5630 5666 5702 5738 5774">→→→→→→→→→→</text>
<g class="wc" transform="translate(603,0)"><rect class="y" y="5436"/><text x="27.5" y="5450">凛</text><rect class="p" y="5472"/><text x="27.5" y="5486">美桜</text><rect class="p" y="5508"/><text x="27.5" y="5522">芽依</text><rect class="b" y="5544"/><text x="27.5" y="5558">優奈</text><rect class="g" y="5580"/><text x="27.5" y="5594">美結</text><rect class="y" y="5616"/><text x="27.5" y="5630">心咲</text><rect class="p" y="5652"/><text x="27.5" y="5666">葵</text><rect class="y" y="5688"/><text x="27.5" y="5702">心咲</text><rect class="p" y="5724"/><text x="27.5" y="5738">葵</text><rect class="y" y="5760"/><text x="27.5" y="5774">心咲</text></g>
<g class="we" transform="translate(684,0)"><rect class="p" y="5436"/><text x="2" y="5450">[ベースデビル]ホワイト</text><rect class="b" y="5472"/><text x="2" y="5486">[ベースデビル]ブルー</text><rect class="g" y="5508"/><text x="2" y="5522">[ベースデビル]レッド</text><rect class="y" y="5544"/><text x="2" y="5558">[ベースデビル]ゴールド</text><rect class="p" y="5580"/><text x="2" y="5594">[ベースデビル]ピンク</text><rect class="b" y="5616"/><text x="2" y="5630">[ベースデビル]パープル</text><rect class="g" y="5652"/><text x="2" y="5666">[ベースデビル]グリーン</text><rect class="b" y="5688"/><text x="2" y="5702">[ベースデビル]パープル</text><rect class="g" y="5724"/><text x="2" y="5738">[ベースデビル]グリーン</text><rect class="b" y="5760"/><text x="2" y="5774">[ベースデビル]パープル</text></g>
<g class="wf" transform="translate(1076,0)"><rect class="p" y="5436"/><text x="2" y="5450">[ベースデビル]ホワイト</text><rect class="b" y="5472"/><text x="2" y="5486">[ベースデビル]ブルー</text><rect class="g" y="5508"/><text x="2" y="5522">[ベースデビル]レッド</text><rect class="y" y="5544"/><text x="2" y="5558">[ベースデビル]ゴールド</text><rect class="p" y="5580"/><text x="2" y="5594">[ベースデビル]ピンク</text></g>
<g class="we" transform="translate(1293,0)"><rect class="b" y="5436"/><text x="2" y="5450">[ベースデビル]パープル</text><rect class="g" y="5472"/><text x="2" y="5486">[ベースデビル]グリーン</text><rect class="b" y="5508"/><text x="2" y="5522">[ベースデビル]パープル</text><rect class="g" y="5544"/><text x="2" y="5558">[ベースデビル]グリーン</text><rect class="b" y="5580"/><text x="2" y="5594">[ベースデビル]パープル</text></g>
<text class="m" x="941 941 941 941 941" y="5450 5486 5522 5558 5594">→→→→→</text>
<text class="m" x="1279 1279 1279 1279 1279" y="5450 5486 5522 5558 5594">×××××</text>
<text class="m" x="1508 1508 1508 1508 1508" y="5450 5486 5522 5558 5594">→→→→→</text>
<g class="wg" transform="translate(1522,0)"><rect class="y" y="5436"/><text x="2" y="5450">[片翼悪魔]心春</text><rect class="p" y="5472"/><text x="2" y="5486">[片翼悪魔]心愛</text><rect class="b" y="5508"/><text x="2" y="5522">[片翼悪魔]凛</text><rect class="y" y="5544"/><text x="2" y="5558">[片翼悪魔]美桜</text><rect class="g" y="5580"/><text x="2" y="5594">[片翼悪魔]芽依</text></g>
<rect x="1735" y="5508" width="70" height="19" fill="#FF0000"/><text class="m w" x="1770" y="5522">5体生成</text>
<text class="m" x="1818" y="5522">→</text>
<g class="wh" transform="translate(1832,0)"><rect class="y" y="5508"/><text x="2" y="5522">[魔学生]ミラ</text></g>
</g>

<g id="frame">
<rect x="2725" y="18" width="220" height="19" fill="#FF0000"/>
<rect class="bx" x="683" y="18" width="205" height="5777"/>
<rect class="bx" x="1075" y="18" width="191" height="5777"/>
<rect class="bx" x="1521" y="18" width="186" height="5779"/>
<rect class="bx" x="1831" y="18" width="189" height="5779"/>
<rect class="bx" x="2064" y="18" width="189" height="5004"/>
<rect class="bx" x="2725" y="18" width="220" height="5004"/>
<text class="m" x="785.5" y="34">生成結果:ベース生成</text>
<text class="m" x="1170.5" y="34">ベース学生生成</text>
<text class="m" x="1614" y="34">生成結果:R2</text>
<text class="m" x="1925.5" y="34">生成結果:R3</text>
<text class="m" x="2158.5" y="34">進化元:R3 Lvmax</text>
<text class="m" x="2338" y="34">素材1</text>
<text class="m" x="2484" y="34">素材2</text>
<text class="m" x="2635" y="34">素材3</text>
<text class="m w" x="2835" y="33">進化後:R4</text>
<line class="dt" x1="2042" y1="0" x2="2042" y2="5797"/>
<line class="dt" x1="274" y1="342.5" x2="2945" y2="342.5"/>
<line class="dt" x1="274" y1="648.5" x2="2945" y2="648.5"/>
<line class="dt" x1="274" y1="954.5" x2="2945" y2="954.5"/>
<line class="dt" x1="274" y1="1548.5" x2="2945" y2="1548.5"/>
<line class="dt" x1="274" y1="2142.5" x2="2945" y2="2142.5"/>
<line class="dt" x1="274" y1="2754.5" x2="2945" y2="2754.5"/>
<line class="dt" x1="274" y1="3366.5" x2="2945" y2="3366.5"/>
<line class="dt" x1="274" y1="3978.5" x2="2945" y2="3978.5"/>
<line class="dt" x1="274" y1="4590.5" x2="2945" y2="4590.5"/>
<line class="sl" x1="274" y1="5040.5" x2="2945" y2="5040.5"/>
<line class="dt" x1="274" y1="5418.5" x2="2042" y2="5418.5"/>
</g>

<g id="notes">
<rect class="sd" x="657" y="1365" width="760" height="74"/><text class="m big" x="1037" y="1418">同上</text>
<rect class="sd" x="657" y="1946" width="760" height="74"/><text class="m big" x="1037" y="1999">同上</text>
<rect class="sd" x="657" y="2557" width="760" height="74"/><text class="m big" x="1037" y="2610">同上</text>
<rect class="sd" x="657" y="3150" width="760" height="74"/><text class="m big" x="1037" y="3203">同上</text>
<rect class="sd" x="657" y="3762" width="760" height="74"/><text class="m big" x="1037" y="3815">同上</text>
<rect class="sd" x="657" y="4374" width="760" height="74"/><text class="m big" x="1037" y="4427">同上</text>
<rect class="nb" x="396" y="2865" width="462" height="52"/><text class="m mid" x="627" y="2902">[ベース司書]はドロップのみ？</text>
<rect class="nb" x="396" y="3476" width="462" height="52"/><text class="m mid" x="627" y="3513">[ベース兵士]はドロップのみ？</text>
<rect class="nb" x="396" y="4087" width="462" height="53"/><text class="m mid" x="627" y="4124">[ベース風来人]はドロップのみ？</text>
<rect class="nb" x="898" y="4788" width="498" height="53"/><text class="m mid" x="1147" y="4825">R2は生成なしで、ドロップのみ？</text>
</g>

<g id="connectors">
<use href="#br" x="1720" y="55"/><use href="#br" x="1720" y="127"/><use href="#br" x="1720" y="199"/><use href="#br" x="1720" y="271"/>
<use href="#br" x="1720" y="361"/><use href="#br" x="1720" y="433"/><use href="#br" x="1720" y="505"/><use href="#br" x="1720" y="577"/>
<use href="#br" x="1720" y="667"/><use href="#br" x="1720" y="739"/><use href="#br" x="1720" y="811"/><use href="#br" x="1720" y="883"/>
<use href="#br" x="1720" y="973"/><use href="#br" x="1720" y="1045"/><use href="#br" x="1720" y="1117"/><use href="#br" x="1720" y="1189"/><use href="#br" x="1720" y="1261"/><use href="#br" x="1720" y="1333"/><use href="#br" x="1720" y="1405"/><use href="#br" x="1720" y="1477"/>
<use href="#br" x="1720" y="1567"/><use href="#br" x="1720" y="1639"/><use href="#br" x="1720" y="1711"/><use href="#br" x="1720" y="1783"/><use href="#br" x="1720" y="1855"/><use href="#br" x="1720" y="1927"/><use href="#br" x="1720" y="1999"/><use href="#br" x="1720" y="2071"/>
<use href="#br" x="1720" y="2161"/><use href="#br" x="1720" y="2233"/><use href="#br" x="1720" y="2305"/><use href="#br" x="1720" y="2377"/><use href="#br" x="1720" y="2467"/><use href="#br" x="1720" y="2539"/><use href="#br" x="1720" y="2611"/><use href="#br" x="1720" y="2683"/>
<use href="#br" x="1720" y="2773"/><use href="#br" x="1720" y="2845"/><use href="#br" x="1720" y="2917"/><use href="#br" x="1720" y="2989"/><use href="#br" x="1720" y="3079"/><use href="#br" x="1720" y="3151"/><use href="#br" x="1720" y="3223"/><use href="#br" x="1720" y="3295"/>
<use href="#br" x="1720" y="3385"/><use href="#br" x="1720" y="3457"/><use href="#br" x="1720" y="3529"/><use href="#br" x="1720" y="3601"/><use href="#br" x="1720" y="3691"/><use href="#br" x="1720" y="3763"/><use href="#br" x="1720" y="3835"/><use href="#br" x="1720" y="3907"/>
<use href="#br" x="1720" y="3997"/><use href="#br" x="1720" y="4069"/><use href="#br" x="1720" y="4141"/><use href="#br" x="1720" y="4213"/><use href="#br" x="1720" y="4303"/><use href="#br" x="1720" y="4375"/><use href="#br" x="1720" y="4447"/><use href="#br" x="1720" y="4519"/>
<use href="#br" x="1720" y="4609"/><use href="#br" x="1720" y="4681"/><use href="#br" x="1720" y="4753"/><use href="#br" x="1720" y="4825"/><use href="#br" x="1720" y="4897"/><use href="#br" x="1720" y="4969"/>
<path d="M1716,5060q6,0 6,6v67q0,6 7,6q-7,0-7,6v67q0,6-6,6" fill="none" stroke="#C0504D" stroke-width="2.2"/>
<path d="M1716,5438q6,0 6,6v67q0,6 7,6q-7,0-7,6v67q0,6-6,6" fill="none" stroke="#C0504D" stroke-width="2.2"/>
<path d="M929,5247q10,0 10,6v59q0,6 10,6q-10,0-10,6v59q0,6-10,6" fill="none" stroke="#C0504D" stroke-width="2.2"/>
<path d="M929,5625q10,0 10,6v59q0,6 10,6q-10,0-10,6v59q0,6-10,6" fill="none" stroke="#C0504D" stroke-width="2.2"/>
<path d="M1006,5310H1352Q1363,5310 1363,5299V5268H1351L1375,5243L1399,5268H1387V5303Q1387,5333 1357,5333H1006Z" fill="#C0504D" stroke="#8E3B38" stroke-width="1.5"/>
<path d="M1006,5688H1352Q1363,5688 1363,5677V5646H1351L1375,5621L1399,5646H1387V5681Q1387,5711 1357,5711H1006Z" fill="#C0504D" stroke="#8E3B38" stroke-width="1.5"/>
</g>
</svg>
